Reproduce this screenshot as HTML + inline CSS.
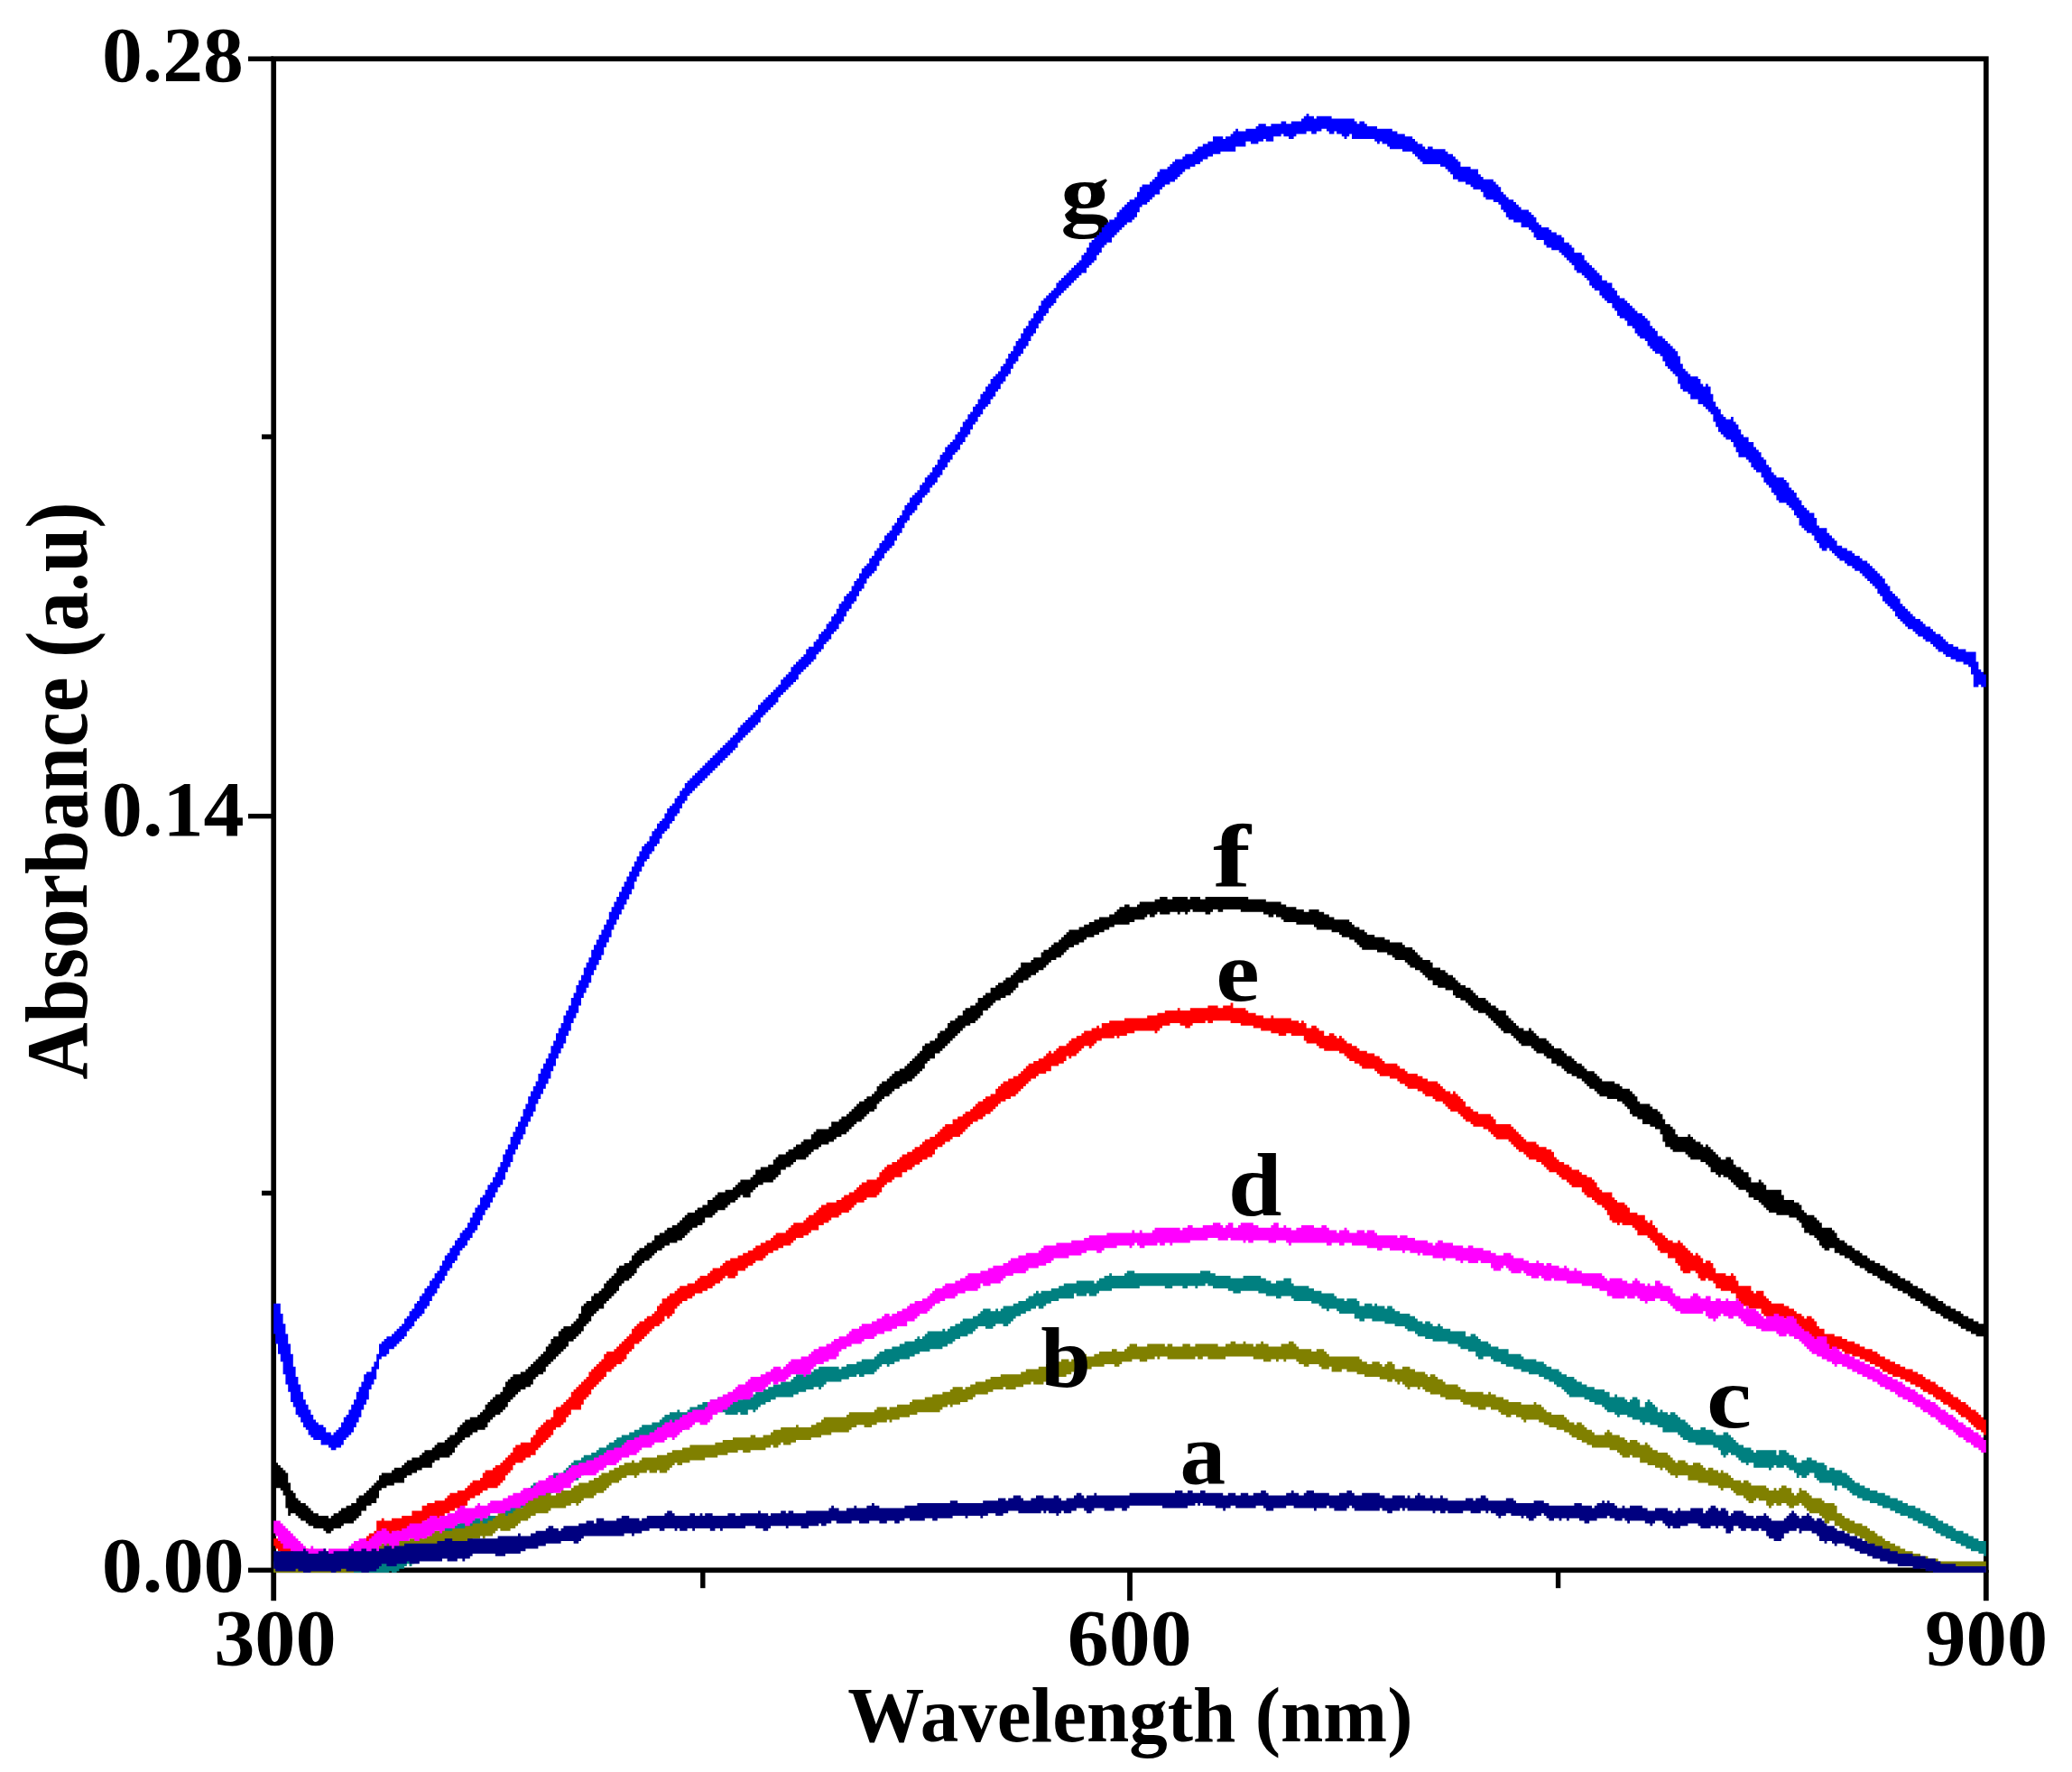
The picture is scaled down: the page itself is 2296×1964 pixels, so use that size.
<!DOCTYPE html>
<html><head><meta charset="utf-8"><title>Absorbance vs Wavelength</title>
<style>html,body{margin:0;padding:0;background:#fff}svg{display:block}text{font-family:"Liberation Serif","Times New Roman",serif;font-weight:bold;fill:#000}</style>
</head><body>
<svg width="2296" height="1964" viewBox="0 0 2296 1964">
<rect width="2296" height="1964" fill="#fff"/>
<text id="lg" font-size="99" transform="translate(1175.34,245.79) scale(1.1043,0.9200)">g</text>
<g id="axes" fill="#000">
<rect x="303.2" y="65.2" width="1897.6" height="1675.1" fill="none" stroke="#000" stroke-width="5.7"/>
<rect x="275" y="62.5" width="28" height="5.4"/>
<rect x="275" y="901.9" width="28" height="5.4"/>
<rect x="275" y="1737.6" width="28" height="5.4"/>
<rect x="290" y="481.4" width="13" height="5.4"/>
<rect x="290" y="1319.7" width="13" height="5.4"/>
<rect x="300.3" y="1740" width="5.8" height="34.2"/>
<rect x="1249.1" y="1740" width="5.8" height="34.2"/>
<rect x="2197.9" y="1740" width="5.8" height="34.2"/>
<rect x="776.1" y="1740" width="5.4" height="20.2"/>
<rect x="1723.9" y="1740" width="5.4" height="20.2"/>
</g>
<g id="curves">
<path fill="#0000ff" d="M303.2,1444.8H310.8V1456.0H313.6V1467.2H316.4V1478.4H319.2V1489.6H322.0V1500.8H324.8V1514.8H327.6V1526.0H330.4V1534.4H333.2V1542.8H336.0V1551.2H338.8V1556.8H341.6V1562.4H344.4V1568.0H347.2V1573.6H350.0V1576.4H352.8V1579.2H358.4V1582.0H361.2V1587.6H366.8V1590.4H369.6V1587.6H372.4V1584.8H375.2V1582.0H378.0V1576.4H380.8V1570.8H383.6V1568.0H386.4V1562.4H389.2V1556.8H392.0V1551.2H394.8V1542.8H397.6V1537.2H400.4V1531.6H403.2V1523.2H406.0V1520.4H411.6V1514.8H414.4V1509.2H417.2V1500.8H420.0V1489.6H422.8V1486.8H425.6V1484.0H428.4V1481.2H434.0V1478.4H436.8V1475.6H439.6V1472.8H442.4V1470.0H445.2V1467.2H448.0V1461.6H450.8V1458.8H453.6V1453.2H456.4V1450.4H459.2V1444.8H462.0V1442.0H464.8V1436.4H467.6V1433.6H470.4V1428.0H473.2V1425.2H476.0V1419.6H478.8V1416.8H481.6V1411.2H484.4V1408.4H487.2V1402.8H490.0V1397.2H492.8V1391.6H495.6V1388.8H498.4V1383.2H501.2V1380.4H504.0V1374.8H506.8V1372.0H509.6V1366.4H512.4V1363.6H515.2V1360.8H518.0V1355.2H520.8V1349.6H523.6V1344.0H526.4V1338.4H529.2V1335.6H532.0V1327.2H534.8V1324.4H537.6V1318.8H540.4V1313.2H543.2V1310.4H546.0V1304.8H548.8V1299.2H551.6V1293.6H554.4V1288.0H557.2V1279.6H560.0V1274.0H562.8V1268.4H565.6V1260.0H568.4V1254.4H571.2V1248.8H574.0V1243.2H576.8V1237.6H579.6V1229.2H582.4V1223.6H585.2V1215.2H588.0V1209.6H590.8V1204.0H593.6V1198.4H596.4V1190.0H599.2V1184.4H602.0V1178.8H604.8V1173.2H607.6V1167.6H610.4V1159.2H613.2V1153.6H616.0V1145.2H618.8V1139.6H621.6V1134.0H624.4V1125.6H627.2V1120.0H630.0V1114.4H632.8V1106.0H635.6V1100.4H638.4V1092.0H641.2V1086.4H644.0V1080.8H646.8V1072.4H649.6V1066.8H652.4V1061.2H655.2V1052.8H658.0V1047.2H660.8V1041.6H663.6V1036.0H666.4V1030.4H669.2V1024.8H672.0V1019.2H674.8V1010.8H677.6V1005.2H680.4V999.6H683.2V994.0H686.0V988.4H688.8V982.8H691.6V977.2H694.4V971.6H697.2V966.0H700.0V960.4H702.8V954.8H705.6V949.2H708.4V943.6H711.2V938.0H714.0V935.2H716.8V932.4H719.6V926.8H722.4V921.2H725.2V918.4H728.0V912.8H730.8V910.0H733.6V907.2H736.4V901.6H739.2V896.0H742.0V893.2H744.8V890.4H747.6V884.8H750.4V882.0H753.2V876.4H756.0V873.6H758.8V868.0H761.6V865.2H764.4V862.4H767.2V859.6H770.0V856.8H772.8V854.0H775.6V851.2H778.4V848.4H781.2V845.6H784.0V842.8H786.8V840.0H789.6V837.2H792.4V834.4H795.2V831.6H798.0V828.8H800.8V826.0H803.6V823.2H806.4V820.4H809.2V817.6H812.0V814.8H814.8V812.0H817.6V806.4H820.4V803.6H823.2V800.8H826.0V798.0H828.8V795.2H831.6V792.4H834.4V789.6H837.2V786.8H840.0V781.2H842.8V778.4H845.6V775.6H848.4V772.8H851.2V770.0H854.0V767.2H856.8V764.4H859.6V761.6H862.4V758.8H865.2V753.2H868.0V750.4H870.8V747.6H873.6V744.8H876.4V739.2H879.2V736.4H882.0V733.6H884.8V730.8H887.6V728.0H890.4V725.2H893.2V719.6H896.0V716.8H901.6V711.2H904.4V708.4H907.2V702.8H910.0V700.0H912.8V697.2H915.6V691.6H918.4V688.8H921.2V683.2H924.0V680.4H926.8V674.8H929.6V669.2H932.4V666.4H935.2V660.8H938.0V658.0H940.8V655.2H943.6V649.6H946.4V644.0H949.2V641.2H952.0V635.6H954.8V630.0H957.6V627.2H960.4V624.4H963.2V618.8H966.0V616.0H968.8V610.4H971.6V607.6H974.4V602.0H977.2V599.2H980.0V593.6H982.8V590.8H985.6V588.0H988.4V582.4H991.2V579.6H994.0V574.0H996.8V571.2H999.6V565.6H1002.4V560.0H1005.2V557.2H1008.0V551.6H1010.8V548.8H1013.6V546.0H1016.4V543.2H1019.2V537.6H1022.0V534.8H1024.8V529.2H1027.6V526.4H1030.4V523.6H1033.2V518.0H1036.0V515.2H1038.8V509.6H1041.6V504.0H1044.4V501.2H1047.2V495.6H1050.0V492.8H1052.8V490.0H1055.6V487.2H1058.4V481.6H1061.2V478.8H1064.0V473.2H1066.8V467.6H1069.6V464.8H1072.4V459.2H1075.2V456.4H1078.0V450.8H1080.8V448.0H1083.6V442.4H1086.4V436.8H1089.2V434.0H1092.0V428.4H1094.8V425.6H1097.6V420.0H1100.4V417.2H1103.2V414.4H1106.0V411.6H1108.8V406.0H1111.6V403.2H1114.4V397.6H1117.2V392.0H1120.0V389.2H1122.8V383.6H1125.6V378.0H1128.4V375.2H1131.2V369.6H1134.0V364.0H1136.8V361.2H1139.6V355.6H1142.4V352.8H1145.2V347.2H1148.0V344.4H1150.8V338.8H1153.6V333.2H1156.4V330.4H1159.2V327.6H1162.0V324.8H1164.8V322.0H1167.6V319.2H1170.4V313.6H1173.2V310.8H1176.0V308.0H1178.8V305.2H1181.6V302.4H1184.4V299.6H1187.2V296.8H1190.0V294.0H1192.8V291.2H1195.6V288.4H1198.4V282.8H1201.2V280.0H1204.0V274.4H1206.8V268.8H1209.6V266.0H1212.4V263.2H1215.2V260.4H1218.0V257.6H1220.8V252.0H1223.6V249.2H1226.4V246.4H1229.2V243.6H1234.8V240.8H1237.6V235.2H1240.4V232.4H1243.2V229.6H1246.0V226.8H1248.8V224.0H1251.6V221.2H1257.2V218.4H1260.0V212.8H1262.8V207.2H1265.6V204.4H1274.0V201.6H1276.8V198.8H1279.6V196.0H1282.4V190.4H1285.2V187.6H1293.6V184.8H1296.4V182.0H1299.2V179.2H1302.0V176.4H1310.4V173.6H1313.2V170.8H1321.6V168.0H1324.4V165.2H1327.2V162.4H1332.8V159.6H1338.4V156.8H1344.0V151.2H1355.2V154.0H1358.0V151.2H1363.6V148.4H1366.4V145.6H1369.2V142.8H1372.0V145.6H1380.4V142.8H1391.6V140.0H1394.4V137.2H1402.8V140.0H1408.4V137.2H1419.6V134.4H1425.2V137.2H1430.8V134.4H1442.0V131.6H1444.8V128.8H1447.6V126.0H1450.4V128.8H1456.0V131.6H1458.8V128.8H1475.6V131.6H1500.8V134.4H1503.6V137.2H1506.4V134.4H1512.0V137.2H1514.8V140.0H1526.0V142.8H1542.8V145.6H1548.4V148.4H1556.8V151.2H1565.2V154.0H1568.0V156.8H1570.8V159.6H1576.4V162.4H1579.2V165.2H1582.0V162.4H1587.6V165.2H1601.6V168.0H1604.4V170.8H1610.0V173.6H1612.8V176.4H1615.6V179.2H1618.4V184.8H1629.6V187.6H1638.0V193.2H1640.8V196.0H1643.6V198.8H1654.8V201.6H1657.6V204.4H1660.4V207.2H1663.2V212.8H1666.0V215.6H1668.8V218.4H1671.6V221.2H1677.2V224.0H1680.0V226.8H1682.8V229.6H1685.6V232.4H1694.0V235.2H1696.8V238.0H1699.6V240.8H1702.4V246.4H1705.2V249.2H1708.0V252.0H1716.4V254.8H1719.2V257.6H1724.8V260.4H1730.4V263.2H1733.2V268.8H1738.8V271.6H1741.6V274.4H1744.4V280.0H1752.8V282.8H1755.6V288.4H1758.4V291.2H1761.2V294.0H1764.0V296.8H1766.8V299.6H1769.6V302.4H1772.4V305.2H1775.2V310.8H1780.8V313.6H1786.4V319.2H1789.2V322.0H1792.0V327.6H1794.8V330.4H1800.4V333.2H1803.2V336.0H1806.0V338.8H1808.8V341.6H1811.6V344.4H1814.4V347.2H1820.0V350.0H1822.8V352.8H1825.6V355.6H1828.4V361.2H1831.2V364.0H1834.0V366.8H1836.8V372.4H1842.4V375.2H1845.2V378.0H1848.0V380.8H1850.8V383.6H1853.6V386.4H1856.4V389.2H1859.2V394.8H1862.0V403.2H1864.8V408.8H1867.6V411.6H1870.4V414.4H1873.2V417.2H1881.6V420.0H1884.4V425.6H1887.2V428.4H1890.0V425.6H1892.8V428.4H1895.6V436.8H1898.4V445.2H1901.2V450.8H1904.0V453.6H1906.8V459.2H1909.6V462.0H1912.4V464.8H1918.0V462.0H1920.8V467.6H1923.6V470.4H1926.4V476.0H1929.2V481.6H1932.0V484.4H1937.6V490.0H1943.2V495.6H1946.0V498.4H1948.8V501.2H1951.6V506.8H1954.4V509.6H1957.2V515.2H1960.0V518.0H1962.8V523.6H1965.6V526.4H1968.4V529.2H1976.8V532.0H1979.6V534.8H1982.4V540.4H1985.2V543.2H1988.0V546.0H1990.8V551.6H1993.6V554.4H1996.4V560.0H1999.2V562.8H2002.0V565.6H2004.8V568.4H2010.4V574.0H2013.2V582.4H2016.0V585.2H2024.4V590.8H2027.2V593.6H2030.0V596.4H2032.8V599.2H2035.6V604.8H2041.2V607.6H2046.8V610.4H2052.4V613.2H2055.2V616.0H2060.8V618.8H2063.6V621.6H2069.2V624.4H2072.0V627.2H2074.8V630.0H2077.6V632.8H2080.4V635.6H2083.2V638.4H2086.0V641.2H2088.8V646.8H2091.6V649.6H2094.4V655.2H2097.2V658.0H2100.0V660.8H2102.8V663.6H2105.6V669.2H2108.4V672.0H2111.2V674.8H2114.0V677.6H2116.8V680.4H2119.6V683.2H2122.4V686.0H2128.0V688.8H2130.8V691.6H2133.6V694.4H2139.2V697.2H2142.0V700.0H2144.8V702.8H2150.4V705.6H2153.2V708.4H2156.0V711.2H2158.8V714.0H2164.4V716.8H2170.0V719.6H2178.4V722.4H2189.6V733.6H2192.4V742.0H2195.2V744.8H2198.0V747.6H2200.8V761.6H2195.2V758.8H2192.4V761.6H2186.8V747.6H2184.0V739.2H2181.2V736.4H2175.6V733.6H2167.2V730.8H2161.6V728.0H2156.0V725.2H2153.2V722.4H2147.6V719.6H2144.8V716.8H2142.0V714.0H2139.2V711.2H2133.6V708.4H2130.8V705.6H2125.2V702.8H2122.4V700.0H2119.6V697.2H2114.0V694.4H2111.2V691.6H2108.4V688.8H2105.6V686.0H2102.8V683.2H2100.0V677.6H2097.2V674.8H2094.4V672.0H2091.6V669.2H2088.8V666.4H2086.0V660.8H2083.2V658.0H2080.4V652.4H2077.6V649.6H2074.8V646.8H2072.0V644.0H2069.2V641.2H2066.4V638.4H2063.6V635.6H2060.8V632.8H2055.2V630.0H2052.4V627.2H2046.8V624.4H2044.0V621.6H2038.4V618.8H2035.6V616.0H2032.8V613.2H2030.0V610.4H2027.2V607.6H2024.4V610.4H2018.8V607.6H2016.0V602.0H2013.2V599.2H2010.4V593.6H2007.6V590.8H2002.0V588.0H1999.2V585.2H1996.4V582.4H1993.6V574.0H1990.8V571.2H1988.0V565.6H1985.2V562.8H1982.4V560.0H1979.6V557.2H1971.2V554.4H1968.4V548.8H1965.6V546.0H1962.8V540.4H1960.0V537.6H1957.2V534.8H1954.4V529.2H1951.6V523.6H1946.0V520.8H1943.2V518.0H1940.4V512.4H1937.6V509.6H1934.8V506.8H1926.4V501.2H1923.6V495.6H1920.8V490.0H1918.0V487.2H1912.4V484.4H1909.6V481.6H1906.8V478.8H1904.0V473.2H1901.2V467.6H1898.4V459.2H1895.6V456.4H1892.8V453.6H1890.0V450.8H1887.2V448.0H1881.6V442.4H1873.2V436.8H1870.4V434.0H1864.8V431.2H1862.0V425.6H1859.2V417.2H1856.4V414.4H1853.6V411.6H1850.8V408.8H1848.0V406.0H1845.2V400.4H1842.4V394.8H1839.6V392.0H1834.0V389.2H1831.2V386.4H1828.4V383.6H1825.6V378.0H1822.8V375.2H1817.2V372.4H1814.4V369.6H1811.6V364.0H1808.8V361.2H1803.2V355.6H1800.4V352.8H1794.8V350.0H1792.0V344.4H1789.2V341.6H1786.4V336.0H1780.8V333.2H1778.0V330.4H1775.2V327.6H1772.4V322.0H1766.8V319.2H1764.0V316.4H1761.2V310.8H1758.4V308.0H1755.6V305.2H1752.8V302.4H1747.2V299.6H1744.4V294.0H1741.6V291.2H1738.8V288.4H1736.0V285.6H1733.2V282.8H1730.4V280.0H1727.6V277.2H1719.2V274.4H1713.6V271.6H1710.8V266.0H1702.4V263.2H1699.6V257.6H1696.8V254.8H1694.0V252.0H1685.6V246.4H1677.2V243.6H1671.6V240.8H1668.8V235.2H1666.0V232.4H1663.2V226.8H1660.4V224.0H1654.8V221.2H1646.4V218.4H1643.6V212.8H1640.8V210.0H1632.4V207.2H1629.6V204.4H1624.0V201.6H1615.6V198.8H1610.0V193.2H1607.2V190.4H1604.4V187.6H1601.6V184.8H1596.0V182.0H1576.4V179.2H1573.6V176.4H1570.8V173.6H1568.0V170.8H1565.2V168.0H1554.0V165.2H1540.0V162.4H1537.2V159.6H1531.6V156.8H1528.8V159.6H1526.0V156.8H1523.2V154.0H1498.0V148.4H1495.2V151.2H1492.4V154.0H1489.6V151.2H1486.8V148.4H1481.2V145.6H1478.4V148.4H1472.8V145.6H1470.0V142.8H1464.4V145.6H1458.8V148.4H1453.2V145.6H1447.6V148.4H1436.4V151.2H1433.6V154.0H1428.0V151.2H1422.4V148.4H1419.6V151.2H1411.2V156.8H1402.8V154.0H1400.0V156.8H1394.4V159.6H1386.0V156.8H1380.4V162.4H1369.2V168.0H1352.4V170.8H1344.0V173.6H1338.4V176.4H1332.8V179.2H1330.0V182.0H1324.4V184.8H1318.8V187.6H1313.2V190.4H1310.4V193.2H1307.6V196.0H1304.8V198.8H1302.0V201.6H1296.4V204.4H1290.8V207.2H1288.0V210.0H1285.2V215.6H1279.6V218.4H1276.8V221.2H1274.0V224.0H1271.2V226.8H1265.6V229.6H1262.8V235.2H1260.0V240.8H1257.2V243.6H1254.4V246.4H1248.8V249.2H1246.0V252.0H1243.2V254.8H1240.4V257.6H1237.6V260.4H1234.8V263.2H1232.0V268.8H1226.4V271.6H1223.6V274.4H1220.8V280.0H1218.0V282.8H1215.2V288.4H1212.4V291.2H1209.6V294.0H1206.8V296.8H1204.0V302.4H1198.4V305.2H1195.6V308.0H1192.8V310.8H1190.0V313.6H1187.2V316.4H1184.4V319.2H1181.6V322.0H1178.8V324.8H1176.0V327.6H1173.2V330.4H1170.4V336.0H1167.6V338.8H1164.8V341.6H1162.0V347.2H1159.2V350.0H1156.4V355.6H1153.6V358.4H1150.8V364.0H1148.0V369.6H1145.2V372.4H1142.4V378.0H1139.6V383.6H1136.8V386.4H1134.0V392.0H1131.2V394.8H1128.4V400.4H1125.6V403.2H1122.8V408.8H1120.0V414.4H1117.2V417.2H1114.4V422.8H1111.6V425.6H1108.8V431.2H1106.0V434.0H1103.2V439.6H1100.4V442.4H1097.6V448.0H1094.8V450.8H1092.0V453.6H1089.2V459.2H1086.4V462.0H1083.6V467.6H1080.8V470.4H1078.0V476.0H1075.2V481.6H1072.4V484.4H1069.6V490.0H1066.8V492.8H1064.0V498.4H1061.2V501.2H1058.4V504.0H1055.6V509.6H1052.8V512.4H1050.0V518.0H1047.2V520.8H1044.4V526.4H1041.6V529.2H1038.8V534.8H1036.0V537.6H1033.2V540.4H1030.4V546.0H1027.6V548.8H1024.8V551.6H1022.0V557.2H1019.2V560.0H1016.4V565.6H1013.6V568.4H1010.8V571.2H1008.0V576.8H1005.2V579.6H1002.4V585.2H999.6V590.8H996.8V593.6H994.0V599.2H991.2V604.8H988.4V607.6H985.6V610.4H982.8V613.2H980.0V618.8H977.2V621.6H974.4V627.2H971.6V632.8H968.8V635.6H966.0V638.4H963.2V641.2H960.4V646.8H957.6V652.4H954.8V655.2H952.0V660.8H949.2V666.4H946.4V669.2H943.6V674.8H940.8V677.6H938.0V683.2H935.2V688.8H932.4V691.6H929.6V697.2H926.8V700.0H924.0V702.8H921.2V708.4H918.4V711.2H915.6V714.0H912.8V719.6H910.0V722.4H907.2V725.2H904.4V730.8H901.6V733.6H898.8V736.4H896.0V739.2H893.2V742.0H890.4V744.8H887.6V747.6H884.8V753.2H882.0V756.0H879.2V758.8H876.4V761.6H873.6V764.4H870.8V767.2H868.0V770.0H865.2V772.8H862.4V778.4H859.6V781.2H856.8V784.0H854.0V786.8H851.2V789.6H848.4V792.4H845.6V795.2H842.8V800.8H840.0V803.6H837.2V806.4H834.4V809.2H831.6V812.0H828.8V814.8H826.0V817.6H823.2V820.4H820.4V823.2H817.6V828.8H814.8V831.6H812.0V834.4H809.2V837.2H806.4V840.0H803.6V842.8H800.8V845.6H798.0V848.4H795.2V851.2H792.4V854.0H789.6V856.8H786.8V859.6H784.0V862.4H781.2V865.2H778.4V868.0H775.6V870.8H772.8V873.6H770.0V876.4H767.2V879.2H764.4V882.0H761.6V887.6H758.8V890.4H756.0V896.0H753.2V901.6H750.4V904.4H747.6V910.0H744.8V912.8H742.0V918.4H739.2V921.2H736.4V924.0H733.6V929.6H730.8V935.2H728.0V938.0H725.2V943.6H722.4V946.4H719.6V952.0H716.8V954.8H714.0V960.4H711.2V966.0H708.4V971.6H705.6V977.2H702.8V985.6H700.0V991.2H697.2V996.8H694.4V1002.4H691.6V1008.0H688.8V1013.6H686.0V1019.2H683.2V1024.8H680.4V1030.4H677.6V1038.8H674.8V1044.4H672.0V1050.0H669.2V1058.4H666.4V1064.0H663.6V1069.6H660.8V1075.2H658.0V1080.8H655.2V1089.2H652.4V1094.8H649.6V1100.4H646.8V1106.0H644.0V1114.4H641.2V1122.8H638.4V1128.4H635.6V1134.0H632.8V1142.4H630.0V1148.0H627.2V1156.4H624.4V1162.0H621.6V1167.6H618.8V1173.2H616.0V1181.6H613.2V1187.2H610.4V1195.6H607.6V1201.2H604.8V1206.8H602.0V1212.4H599.2V1218.0H596.4V1223.6H593.6V1232.0H590.8V1237.6H588.0V1243.2H585.2V1248.8H582.4V1257.2H579.6V1262.8H576.8V1268.4H574.0V1274.0H571.2V1279.6H568.4V1288.0H565.6V1293.6H562.8V1299.2H560.0V1307.6H557.2V1313.2H554.4V1316.0H551.6V1321.6H548.8V1327.2H546.0V1332.8H543.2V1338.4H540.4V1341.2H537.6V1346.8H534.8V1352.4H532.0V1358.0H529.2V1363.6H526.4V1366.4H523.6V1372.0H520.8V1374.8H518.0V1380.4H515.2V1383.2H512.4V1386.0H509.6V1391.6H506.8V1397.2H504.0V1400.0H501.2V1405.6H498.4V1408.4H495.6V1414.0H492.8V1419.6H490.0V1422.4H487.2V1428.0H484.4V1433.6H481.6V1436.4H478.8V1442.0H476.0V1447.6H473.2V1450.4H470.4V1456.0H467.6V1458.8H464.8V1461.6H462.0V1464.4H459.2V1470.0H456.4V1472.8H453.6V1475.6H450.8V1481.2H448.0V1484.0H445.2V1486.8H442.4V1489.6H439.6V1492.4H436.8V1495.2H431.2V1500.8H428.4V1503.6H422.8V1506.4H420.0V1517.6H417.2V1528.8H414.4V1534.4H411.6V1540.0H408.8V1551.2H406.0V1556.8H403.2V1562.4H400.4V1570.8H397.6V1576.4H394.8V1582.0H392.0V1587.6H389.2V1590.4H386.4V1593.2H383.6V1596.0H380.8V1601.6H378.0V1604.4H372.4V1607.2H366.8V1604.4H364.0V1601.6H355.6V1596.0H347.2V1593.2H344.4V1590.4H341.6V1584.8H338.8V1582.0H336.0V1576.4H333.2V1570.8H330.4V1568.0H327.6V1559.6H324.8V1554.0H322.0V1542.8H319.2V1534.4H316.4V1523.2H313.6V1509.2H310.8V1500.8H308.0V1489.6H305.2V1478.4H303.2Z"/>
<path fill="#000000" d="M303.2,1621.2H308.0V1624.0H310.8V1626.8H313.6V1629.6H316.4V1632.4H319.2V1643.6H322.0V1652.0H324.8V1654.8H327.6V1660.4H330.4V1663.2H333.2V1666.0H338.8V1668.8H341.6V1671.6H344.4V1674.4H347.2V1677.2H352.8V1680.0H364.0V1682.8H366.8V1680.0H369.6V1677.2H375.2V1674.4H378.0V1671.6H383.6V1668.8H389.2V1666.0H394.8V1660.4H397.6V1657.6H403.2V1654.8H406.0V1652.0H408.8V1649.2H411.6V1646.4H414.4V1643.6H417.2V1640.8H420.0V1635.2H422.8V1632.4H434.0V1629.6H436.8V1626.8H445.2V1624.0H448.0V1621.2H450.8V1618.4H456.4V1615.6H464.8V1612.8H467.6V1610.0H470.4V1607.2H478.8V1604.4H481.6V1601.6H484.4V1598.8H492.8V1596.0H495.6V1593.2H498.4V1590.4H504.0V1587.6H506.8V1582.0H509.6V1579.2H512.4V1576.4H515.2V1573.6H520.8V1570.8H529.2V1568.0H532.0V1565.2H534.8V1562.4H537.6V1556.8H540.4V1554.0H543.2V1551.2H546.0V1548.4H548.8V1545.6H554.4V1542.8H557.2V1537.2H560.0V1531.6H562.8V1528.8H565.6V1526.0H568.4V1523.2H576.8V1520.4H582.4V1517.6H585.2V1514.8H588.0V1512.0H590.8V1509.2H593.6V1506.4H596.4V1503.6H599.2V1500.8H602.0V1498.0H604.8V1492.4H607.6V1489.6H610.4V1484.0H613.2V1481.2H618.8V1475.6H621.6V1472.8H624.4V1470.0H632.8V1467.2H635.6V1464.4H638.4V1461.6H641.2V1456.0H644.0V1447.6H646.8V1444.8H649.6V1442.0H655.2V1436.4H658.0V1433.6H663.6V1430.8H666.4V1428.0H669.2V1422.4H672.0V1419.6H674.8V1416.8H677.6V1414.0H680.4V1411.2H683.2V1405.6H686.0V1402.8H691.6V1400.0H697.2V1397.2H700.0V1391.6H702.8V1388.8H705.6V1386.0H708.4V1383.2H714.0V1380.4H716.8V1377.6H722.4V1374.8H725.2V1369.2H730.8V1366.4H736.4V1363.6H739.2V1360.8H744.8V1358.0H750.4V1355.2H753.2V1352.4H756.0V1349.6H758.8V1346.8H761.6V1344.0H770.0V1341.2H772.8V1338.4H778.4V1335.6H784.0V1330.0H789.6V1327.2H792.4V1324.4H795.2V1321.6H803.6V1318.8H812.0V1316.0H814.8V1313.2H817.6V1310.4H820.4V1307.6H831.6V1304.8H834.4V1302.0H837.2V1296.4H842.8V1293.6H851.2V1290.8H856.8V1285.2H859.6V1282.4H862.4V1279.6H870.8V1276.8H873.6V1274.0H879.2V1271.2H882.0V1268.4H887.6V1265.6H890.4V1262.8H898.8V1257.2H901.6V1254.4H904.4V1251.6H918.4V1248.8H921.2V1243.2H929.6V1240.4H932.4V1237.6H938.0V1234.8H940.8V1232.0H943.6V1229.2H946.4V1226.4H949.2V1223.6H952.0V1220.8H957.6V1218.0H960.4V1215.2H966.0V1212.4H968.8V1209.6H971.6V1204.0H974.4V1201.2H977.2V1198.4H982.8V1195.6H985.6V1192.8H988.4V1190.0H991.2V1187.2H996.8V1184.4H1002.4V1181.6H1005.2V1178.8H1008.0V1176.0H1010.8V1173.2H1013.6V1170.4H1016.4V1167.6H1019.2V1164.8H1022.0V1159.2H1024.8V1156.4H1030.4V1153.6H1036.0V1150.8H1038.8V1145.2H1041.6V1142.4H1047.2V1139.6H1050.0V1134.0H1052.8V1131.2H1058.4V1128.4H1061.2V1125.6H1066.8V1120.0H1069.6V1117.2H1075.2V1114.4H1080.8V1111.6H1083.6V1106.0H1089.2V1103.2H1092.0V1100.4H1097.6V1094.8H1103.2V1092.0H1106.0V1089.2H1111.6V1086.4H1114.4V1083.6H1120.0V1080.8H1122.8V1078.0H1125.6V1075.2H1128.4V1072.4H1131.2V1066.8H1142.4V1064.0H1145.2V1061.2H1153.6V1055.6H1156.4V1052.8H1162.0V1050.0H1164.8V1047.2H1167.6V1044.4H1173.2V1041.6H1176.0V1038.8H1178.8V1036.0H1181.6V1033.2H1184.4V1030.4H1195.6V1027.6H1201.2V1024.8H1206.8V1022.0H1212.4V1019.2H1218.0V1016.4H1229.2V1013.6H1234.8V1010.8H1237.6V1008.0H1240.4V1005.2H1246.0V1002.4H1251.6V1005.2H1260.0V1002.4H1262.8V999.6H1279.6V996.8H1285.2V994.0H1293.6V996.8H1299.2V994.0H1316.0V996.8H1318.8V994.0H1330.0V996.8H1335.6V994.0H1383.2V996.8H1402.8V999.6H1419.6V1002.4H1425.2V1005.2H1436.4V1008.0H1444.8V1010.8H1450.4V1008.0H1461.6V1010.8H1467.2V1013.6H1472.8V1016.4H1478.4V1019.2H1495.2V1022.0H1498.0V1024.8H1500.8V1027.6H1506.4V1030.4H1512.0V1033.2H1514.8V1036.0H1523.2V1038.8H1534.4V1041.6H1540.0V1044.4H1554.0V1047.2H1556.8V1050.0H1565.2V1052.8H1568.0V1055.6H1570.8V1058.4H1573.6V1061.2H1576.4V1064.0H1584.8V1066.8H1587.6V1072.4H1596.0V1075.2H1601.6V1078.0H1604.4V1080.8H1610.0V1083.6H1612.8V1086.4H1615.6V1089.2H1618.4V1092.0H1624.0V1094.8H1629.6V1097.6H1632.4V1100.4H1635.2V1103.2H1638.0V1106.0H1646.4V1108.8H1649.2V1111.6H1652.0V1114.4H1657.6V1117.2H1660.4V1120.0H1668.8V1125.6H1671.6V1128.4H1674.4V1131.2H1677.2V1134.0H1680.0V1136.8H1682.8V1139.6H1688.4V1142.4H1694.0V1139.6H1696.8V1142.4H1699.6V1145.2H1702.4V1148.0H1705.2V1150.8H1713.6V1153.6H1716.4V1156.4H1719.2V1159.2H1722.0V1162.0H1730.4V1164.8H1733.2V1167.6H1736.0V1170.4H1741.6V1173.2H1744.4V1176.0H1747.2V1178.8H1752.8V1181.6H1755.6V1184.4H1758.4V1187.2H1766.8V1190.0H1769.6V1192.8H1772.4V1195.6H1775.2V1198.4H1789.2V1201.2H1794.8V1204.0H1797.6V1206.8H1806.0V1209.6H1808.8V1212.4H1811.6V1215.2H1814.4V1220.8H1817.2V1223.6H1828.4V1226.4H1831.2V1229.2H1836.8V1232.0H1839.6V1234.8H1842.4V1240.4H1845.2V1246.0H1850.8V1248.8H1853.6V1251.6H1856.4V1257.2H1859.2V1260.0H1870.4V1257.2H1873.2V1260.0H1876.0V1262.8H1878.8V1265.6H1884.4V1268.4H1887.2V1271.2H1890.0V1268.4H1892.8V1271.2H1895.6V1274.0H1898.4V1276.8H1901.2V1279.6H1904.0V1282.4H1906.8V1285.2H1912.4V1282.4H1918.0V1285.2H1920.8V1290.8H1923.6V1293.6H1929.2V1296.4H1932.0V1299.2H1937.6V1304.8H1940.4V1310.4H1948.8V1307.6H1951.6V1310.4H1954.4V1313.2H1957.2V1318.8H1974.0V1324.4H1976.8V1330.0H1988.0V1332.8H1993.6V1335.6H1996.4V1341.2H1999.2V1344.0H2002.0V1346.8H2010.4V1349.6H2013.2V1352.4H2016.0V1355.2H2018.8V1360.8H2030.0V1363.6H2032.8V1366.4H2035.6V1372.0H2038.4V1374.8H2044.0V1377.6H2046.8V1380.4H2052.4V1383.2H2055.2V1386.0H2060.8V1388.8H2063.6V1391.6H2069.2V1394.4H2072.0V1397.2H2077.6V1400.0H2083.2V1402.8H2088.8V1405.6H2091.6V1408.4H2097.2V1411.2H2102.8V1414.0H2105.6V1416.8H2111.2V1419.6H2116.8V1422.4H2119.6V1425.2H2125.2V1428.0H2130.8V1430.8H2133.6V1433.6H2139.2V1436.4H2144.8V1439.2H2147.6V1442.0H2153.2V1444.8H2156.0V1447.6H2161.6V1450.4H2167.2V1453.2H2172.8V1456.0H2175.6V1458.8H2181.2V1461.6H2186.8V1464.4H2192.4V1467.2H2198.0V1470.0H2200.8V1484.0H2198.0V1481.2H2189.6V1478.4H2184.0V1475.6H2178.4V1472.8H2172.8V1470.0H2170.0V1467.2H2164.4V1464.4H2158.8V1461.6H2153.2V1458.8H2150.4V1456.0H2144.8V1453.2H2139.2V1450.4H2136.4V1447.6H2130.8V1444.8H2128.0V1442.0H2122.4V1439.2H2116.8V1436.4H2114.0V1433.6H2108.4V1430.8H2102.8V1428.0H2097.2V1425.2H2094.4V1422.4H2088.8V1419.6H2083.2V1416.8H2080.4V1414.0H2074.8V1411.2H2069.2V1408.4H2066.4V1405.6H2060.8V1402.8H2055.2V1400.0H2052.4V1397.2H2049.6V1394.4H2044.0V1391.6H2038.4V1388.8H2032.8V1383.2H2027.2V1386.0H2021.6V1383.2H2018.8V1380.4H2016.0V1374.8H2013.2V1372.0H2010.4V1369.2H2004.8V1366.4H1999.2V1360.8H1996.4V1355.2H1993.6V1352.4H1990.8V1349.6H1982.4V1346.8H1968.4V1344.0H1960.0V1341.2H1957.2V1338.4H1954.4V1335.6H1951.6V1332.8H1948.8V1330.0H1943.2V1327.2H1937.6V1321.6H1934.8V1318.8H1926.4V1316.0H1923.6V1313.2H1920.8V1310.4H1918.0V1307.6H1915.2V1304.8H1909.6V1302.0H1906.8V1304.8H1904.0V1302.0H1901.2V1299.2H1895.6V1293.6H1892.8V1290.8H1890.0V1288.0H1884.4V1285.2H1873.2V1282.4H1870.4V1279.6H1867.6V1276.8H1853.6V1274.0H1850.8V1271.2H1845.2V1265.6H1842.4V1257.2H1839.6V1251.6H1834.0V1248.8H1828.4V1246.0H1820.0V1240.4H1814.4V1237.6H1808.8V1234.8H1806.0V1229.2H1803.2V1226.4H1800.4V1223.6H1797.6V1220.8H1792.0V1218.0H1780.8V1215.2H1772.4V1212.4H1769.6V1209.6H1766.8V1206.8H1761.2V1204.0H1758.4V1201.2H1755.6V1198.4H1752.8V1195.6H1747.2V1192.8H1741.6V1190.0H1736.0V1187.2H1733.2V1184.4H1730.4V1181.6H1724.8V1178.8H1719.2V1173.2H1713.6V1170.4H1710.8V1167.6H1702.4V1164.8H1699.6V1162.0H1696.8V1159.2H1685.6V1156.4H1682.8V1153.6H1680.0V1150.8H1677.2V1148.0H1674.4V1145.2H1666.0V1142.4H1663.2V1139.6H1660.4V1136.8H1657.6V1134.0H1654.8V1131.2H1652.0V1128.4H1649.2V1125.6H1646.4V1122.8H1638.0V1120.0H1632.4V1117.2H1629.6V1114.4H1626.8V1111.6H1624.0V1108.8H1618.4V1106.0H1612.8V1103.2H1610.0V1097.6H1601.6V1094.8H1593.2V1092.0H1587.6V1086.4H1582.0V1083.6H1579.2V1080.8H1576.4V1078.0H1573.6V1075.2H1568.0V1072.4H1562.4V1069.6H1559.6V1066.8H1556.8V1064.0H1545.6V1061.2H1542.8V1058.4H1537.2V1055.6H1526.0V1052.8H1509.2V1050.0H1506.4V1047.2H1503.6V1044.4H1500.8V1041.6H1495.2V1038.8H1486.8V1036.0H1484.0V1033.2H1475.6V1030.4H1458.8V1027.6H1456.0V1024.8H1436.4V1022.0H1422.4V1019.2H1419.6V1016.4H1414.0V1013.6H1411.2V1016.4H1405.6V1013.6H1400.0V1010.8H1374.8V1008.0H1355.2V1010.8H1349.6V1008.0H1344.0V1010.8H1341.2V1013.6H1335.6V1010.8H1321.6V1008.0H1318.8V1010.8H1316.0V1013.6H1313.2V1010.8H1307.6V1013.6H1304.8V1010.8H1296.4V1013.6H1285.2V1010.8H1282.4V1013.6H1279.6V1016.4H1274.0V1013.6H1271.2V1016.4H1268.4V1019.2H1257.2V1022.0H1251.6V1024.8H1234.8V1027.6H1229.2V1030.4H1223.6V1033.2H1218.0V1036.0H1212.4V1038.8H1204.0V1041.6H1201.2V1044.4H1195.6V1047.2H1190.0V1050.0H1184.4V1052.8H1181.6V1055.6H1178.8V1058.4H1176.0V1061.2H1170.4V1064.0H1164.8V1066.8H1162.0V1069.6H1159.2V1072.4H1156.4V1075.2H1150.8V1078.0H1148.0V1080.8H1142.4V1083.6H1139.6V1086.4H1134.0V1089.2H1128.4V1094.8H1125.6V1097.6H1122.8V1100.4H1120.0V1103.2H1114.4V1106.0H1108.8V1108.8H1103.2V1111.6H1100.4V1114.4H1097.6V1117.2H1094.8V1120.0H1089.2V1125.6H1086.4V1128.4H1083.6V1131.2H1080.8V1134.0H1075.2V1136.8H1069.6V1139.6H1066.8V1142.4H1064.0V1145.2H1061.2V1148.0H1058.4V1150.8H1055.6V1153.6H1052.8V1156.4H1050.0V1159.2H1047.2V1162.0H1044.4V1164.8H1041.6V1167.6H1036.0V1173.2H1030.4V1176.0H1027.6V1178.8H1024.8V1184.4H1022.0V1187.2H1019.2V1190.0H1016.4V1192.8H1013.6V1195.6H1010.8V1198.4H1005.2V1201.2H999.6V1204.0H996.8V1206.8H991.2V1209.6H988.4V1212.4H985.6V1215.2H980.0V1218.0H977.2V1220.8H974.4V1223.6H971.6V1229.2H968.8V1232.0H963.2V1234.8H960.4V1237.6H957.6V1240.4H954.8V1243.2H949.2V1246.0H946.4V1248.8H943.6V1251.6H940.8V1254.4H938.0V1257.2H932.4V1260.0H926.8V1262.8H924.0V1265.6H918.4V1268.4H910.0V1271.2H907.2V1274.0H901.6V1276.8H898.8V1279.6H896.0V1282.4H893.2V1285.2H882.0V1288.0H879.2V1290.8H876.4V1293.6H870.8V1296.4H865.2V1302.0H862.4V1304.8H859.6V1307.6H856.8V1310.4H845.6V1313.2H840.0V1316.0H837.2V1318.8H834.4V1321.6H831.6V1327.2H823.2V1324.4H820.4V1327.2H817.6V1330.0H814.8V1332.8H809.2V1335.6H806.4V1338.4H803.6V1341.2H795.2V1344.0H792.4V1346.8H789.6V1349.6H781.2V1355.2H778.4V1358.0H772.8V1360.8H767.2V1363.6H764.4V1366.4H761.6V1369.2H758.8V1372.0H756.0V1374.8H750.4V1377.6H742.0V1380.4H736.4V1383.2H733.6V1386.0H728.0V1388.8H725.2V1391.6H722.4V1394.4H719.6V1397.2H714.0V1400.0H711.2V1402.8H708.4V1405.6H705.6V1411.2H702.8V1414.0H700.0V1416.8H697.2V1419.6H691.6V1422.4H688.8V1425.2H686.0V1430.8H683.2V1433.6H680.4V1436.4H677.6V1439.2H674.8V1442.0H672.0V1444.8H669.2V1450.4H663.6V1453.2H660.8V1456.0H658.0V1458.8H655.2V1464.4H652.4V1467.2H649.6V1470.0H646.8V1475.6H644.0V1478.4H641.2V1481.2H638.4V1484.0H635.6V1486.8H630.0V1492.4H627.2V1495.2H624.4V1498.0H621.6V1500.8H618.8V1503.6H616.0V1506.4H613.2V1509.2H610.4V1512.0H607.6V1514.8H604.8V1520.4H602.0V1523.2H596.4V1526.0H593.6V1528.8H590.8V1534.4H588.0V1537.2H582.4V1540.0H576.8V1542.8H574.0V1545.6H571.2V1548.4H568.4V1551.2H565.6V1554.0H562.8V1559.6H560.0V1562.4H557.2V1565.2H554.4V1568.0H548.8V1570.8H546.0V1573.6H543.2V1576.4H540.4V1582.0H537.6V1584.8H529.2V1587.6H523.6V1590.4H520.8V1593.2H515.2V1596.0H512.4V1598.8H509.6V1601.6H506.8V1604.4H504.0V1610.0H501.2V1612.8H498.4V1615.6H487.2V1618.4H481.6V1621.2H478.8V1626.8H467.6V1629.6H462.0V1632.4H456.4V1635.2H450.8V1638.0H448.0V1643.6H436.8V1646.4H428.4V1649.2H422.8V1652.0H420.0V1660.4H417.2V1666.0H411.6V1668.8H406.0V1674.4H400.4V1680.0H397.6V1682.8H394.8V1685.6H392.0V1688.4H380.8V1691.2H378.0V1694.0H369.6V1696.8H366.8V1699.6H361.2V1696.8H358.4V1694.0H347.2V1691.2H341.6V1688.4H338.8V1685.6H333.2V1682.8H330.4V1680.0H327.6V1677.2H322.0V1680.0H319.2V1671.6H316.4V1657.6H313.6V1652.0H310.8V1649.2H305.2V1646.4H303.2Z"/>
<path fill="#ff0000" d="M303.2,1705.2H316.4V1708.0H322.0V1710.8H330.4V1713.6H333.2V1719.2H338.8V1716.4H341.6V1719.2H355.6V1722.0H358.4V1724.8H364.0V1722.0H369.6V1719.2H380.8V1722.0H383.6V1719.2H386.4V1716.4H389.2V1713.6H400.4V1710.8H403.2V1705.2H406.0V1702.4H408.8V1699.6H414.4V1696.8H417.2V1685.6H422.8V1682.8H425.6V1685.6H434.0V1682.8H445.2V1680.0H456.4V1674.4H467.6V1668.8H473.2V1666.0H481.6V1663.2H492.8V1660.4H495.6V1657.6H498.4V1654.8H506.8V1652.0H515.2V1649.2H518.0V1646.4H520.8V1643.6H523.6V1640.8H532.0V1638.0H534.8V1632.4H537.6V1629.6H546.0V1626.8H548.8V1624.0H554.4V1621.2H557.2V1618.4H560.0V1615.6H562.8V1612.8H565.6V1610.0H568.4V1604.4H571.2V1601.6H576.8V1598.8H588.0V1593.2H590.8V1590.4H593.6V1584.8H596.4V1582.0H599.2V1579.2H602.0V1576.4H604.8V1573.6H610.4V1570.8H613.2V1562.4H616.0V1559.6H621.6V1556.8H624.4V1554.0H627.2V1551.2H630.0V1548.4H632.8V1542.8H635.6V1540.0H638.4V1537.2H641.2V1534.4H644.0V1531.6H646.8V1528.8H649.6V1526.0H652.4V1520.4H655.2V1517.6H658.0V1514.8H660.8V1512.0H663.6V1509.2H666.4V1506.4H669.2V1500.8H672.0V1498.0H680.4V1495.2H683.2V1492.4H686.0V1489.6H688.8V1486.8H691.6V1484.0H694.4V1481.2H697.2V1478.4H700.0V1472.8H702.8V1470.0H705.6V1467.2H708.4V1464.4H714.0V1461.6H716.8V1458.8H722.4V1456.0H725.2V1453.2H728.0V1447.6H730.8V1444.8H733.6V1439.2H739.2V1436.4H742.0V1433.6H747.6V1430.8H750.4V1428.0H753.2V1425.2H761.6V1422.4H770.0V1419.6H772.8V1416.8H775.6V1414.0H784.0V1411.2H786.8V1408.4H789.6V1405.6H798.0V1402.8H800.8V1400.0H803.6V1397.2H809.2V1394.4H817.6V1391.6H823.2V1388.8H828.8V1386.0H834.4V1383.2H837.2V1380.4H842.8V1377.6H848.4V1374.8H854.0V1372.0H856.8V1369.2H859.6V1366.4H870.8V1363.6H873.6V1360.8H876.4V1358.0H879.2V1355.2H890.4V1352.4H893.2V1349.6H896.0V1346.8H901.6V1344.0H904.4V1341.2H907.2V1338.4H910.0V1335.6H915.6V1332.8H926.8V1330.0H932.4V1327.2H935.2V1324.4H940.8V1321.6H946.4V1318.8H949.2V1316.0H952.0V1313.2H954.8V1310.4H960.4V1307.6H971.6V1304.8H974.4V1299.2H977.2V1296.4H980.0V1293.6H982.8V1290.8H988.4V1288.0H994.0V1285.2H996.8V1282.4H999.6V1279.6H1005.2V1276.8H1010.8V1274.0H1013.6V1271.2H1019.2V1268.4H1022.0V1265.6H1024.8V1262.8H1030.4V1260.0H1036.0V1257.2H1038.8V1254.4H1041.6V1251.6H1044.4V1248.8H1047.2V1246.0H1055.6V1240.4H1061.2V1237.6H1066.8V1234.8H1069.6V1232.0H1075.2V1229.2H1078.0V1226.4H1080.8V1223.6H1083.6V1220.8H1089.2V1218.0H1092.0V1215.2H1097.6V1212.4H1103.2V1206.8H1106.0V1204.0H1108.8V1201.2H1111.6V1198.4H1117.2V1195.6H1122.8V1192.8H1128.4V1190.0H1131.2V1187.2H1134.0V1184.4H1136.8V1181.6H1139.6V1178.8H1145.2V1176.0H1150.8V1173.2H1156.4V1170.4H1159.2V1167.6H1162.0V1164.8H1164.8V1167.6H1167.6V1164.8H1170.4V1162.0H1173.2V1159.2H1181.6V1156.4H1184.4V1153.6H1187.2V1150.8H1192.8V1148.0H1198.4V1145.2H1201.2V1142.4H1209.6V1139.6H1215.2V1136.8H1218.0V1139.6H1220.8V1134.0H1229.2V1131.2H1246.0V1128.4H1271.2V1125.6H1282.4V1122.8H1290.8V1120.0H1304.8V1117.2H1307.6V1120.0H1318.8V1117.2H1338.4V1114.4H1349.6V1117.2H1355.2V1114.4H1363.6V1111.6H1366.4V1117.2H1380.4V1120.0H1383.2V1122.8H1391.6V1125.6H1400.0V1128.4H1408.4V1125.6H1411.2V1128.4H1430.8V1131.2H1439.2V1134.0H1442.0V1131.2H1444.8V1134.0H1447.6V1139.6H1453.2V1136.8H1458.8V1139.6H1461.6V1142.4H1467.2V1148.0H1472.8V1145.2H1478.4V1148.0H1481.2V1150.8H1484.0V1148.0H1486.8V1150.8H1489.6V1153.6H1492.4V1156.4H1498.0V1159.2H1503.6V1162.0H1506.4V1164.8H1514.8V1167.6H1523.2V1170.4H1528.8V1173.2H1531.6V1176.0H1534.4V1178.8H1548.4V1181.6H1551.2V1184.4H1556.8V1187.2H1559.6V1190.0H1570.8V1192.8H1576.4V1195.6H1582.0V1198.4H1593.2V1201.2H1596.0V1204.0H1598.8V1206.8H1601.6V1209.6H1607.2V1212.4H1610.0V1209.6H1612.8V1212.4H1615.6V1215.2H1618.4V1218.0H1621.2V1220.8H1624.0V1226.4H1629.6V1229.2H1632.4V1232.0H1638.0V1234.8H1652.0V1237.6H1654.8V1240.4H1657.6V1246.0H1674.4V1248.8H1677.2V1251.6H1680.0V1254.4H1682.8V1257.2H1685.6V1260.0H1688.4V1262.8H1691.2V1265.6H1702.4V1268.4H1705.2V1271.2H1713.6V1274.0H1719.2V1276.8H1722.0V1282.4H1724.8V1285.2H1727.6V1288.0H1733.2V1290.8H1738.8V1293.6H1741.6V1296.4H1750.0V1299.2H1752.8V1302.0H1758.4V1304.8H1764.0V1307.6H1766.8V1310.4H1769.6V1316.0H1772.4V1318.8H1775.2V1321.6H1786.4V1327.2H1789.2V1330.0H1792.0V1332.8H1800.4V1335.6H1803.2V1338.4H1806.0V1344.0H1814.4V1346.8H1822.8V1352.4H1825.6V1355.2H1828.4V1352.4H1831.2V1358.0H1834.0V1360.8H1836.8V1366.4H1842.4V1369.2H1845.2V1372.0H1848.0V1374.8H1853.6V1377.6H1859.2V1374.8H1862.0V1377.6H1864.8V1380.4H1867.6V1383.2H1870.4V1386.0H1873.2V1388.8H1876.0V1391.6H1878.8V1388.8H1881.6V1391.6H1884.4V1394.4H1887.2V1400.0H1890.0V1397.2H1895.6V1400.0H1898.4V1405.6H1901.2V1411.2H1912.4V1414.0H1918.0V1411.2H1920.8V1414.0H1923.6V1419.6H1926.4V1425.2H1940.4V1430.8H1943.2V1433.6H1946.0V1430.8H1954.4V1436.4H1957.2V1439.2H1960.0V1442.0H1962.8V1444.8H1976.8V1447.6H1982.4V1450.4H1988.0V1453.2H1990.8V1456.0H1996.4V1458.8H1999.2V1461.6H2002.0V1458.8H2007.6V1461.6H2010.4V1464.4H2013.2V1470.0H2016.0V1472.8H2021.6V1478.4H2032.8V1481.2H2041.2V1484.0H2046.8V1486.8H2055.2V1489.6H2060.8V1492.4H2066.4V1495.2H2074.8V1498.0H2080.4V1500.8H2083.2V1503.6H2088.8V1506.4H2094.4V1509.2H2100.0V1512.0H2105.6V1514.8H2111.2V1517.6H2119.6V1520.4H2125.2V1523.2H2130.8V1526.0H2133.6V1528.8H2139.2V1531.6H2144.8V1534.4H2147.6V1537.2H2153.2V1540.0H2156.0V1542.8H2161.6V1545.6H2164.4V1548.4H2170.0V1551.2H2172.8V1554.0H2178.4V1556.8H2181.2V1559.6H2184.0V1562.4H2189.6V1565.2H2192.4V1568.0H2195.2V1570.8H2198.0V1573.6H2200.8V1590.4H2198.0V1587.6H2195.2V1584.8H2189.6V1582.0H2186.8V1579.2H2184.0V1576.4H2181.2V1573.6H2178.4V1570.8H2172.8V1568.0H2170.0V1565.2H2167.2V1562.4H2161.6V1559.6H2158.8V1556.8H2153.2V1554.0H2150.4V1551.2H2144.8V1548.4H2142.0V1545.6H2136.4V1542.8H2130.8V1540.0H2128.0V1537.2H2122.4V1534.4H2116.8V1531.6H2111.2V1528.8H2105.6V1526.0H2097.2V1523.2H2091.6V1520.4H2086.0V1517.6H2083.2V1514.8H2077.6V1512.0H2072.0V1509.2H2066.4V1506.4H2060.8V1503.6H2052.4V1500.8H2044.0V1498.0H2041.2V1495.2H2035.6V1498.0H2030.0V1495.2H2016.0V1489.6H2013.2V1484.0H2010.4V1486.8H2002.0V1484.0H1993.6V1478.4H1990.8V1470.0H1988.0V1467.2H1982.4V1464.4H1979.6V1461.6H1968.4V1464.4H1965.6V1461.6H1957.2V1458.8H1954.4V1456.0H1951.6V1450.4H1937.6V1447.6H1929.2V1444.8H1926.4V1439.2H1923.6V1433.6H1918.0V1430.8H1906.8V1428.0H1901.2V1422.4H1898.4V1419.6H1892.8V1416.8H1890.0V1419.6H1884.4V1416.8H1881.6V1411.2H1878.8V1408.4H1873.2V1411.2H1864.8V1408.4H1862.0V1402.8H1859.2V1400.0H1856.4V1394.4H1848.0V1388.8H1839.6V1386.0H1836.8V1380.4H1834.0V1377.6H1831.2V1374.8H1828.4V1372.0H1825.6V1369.2H1814.4V1363.6H1811.6V1360.8H1808.8V1358.0H1797.6V1355.2H1794.8V1358.0H1792.0V1355.2H1786.4V1352.4H1783.6V1346.8H1780.8V1341.2H1778.0V1338.4H1775.2V1335.6H1769.6V1332.8H1766.8V1330.0H1764.0V1327.2H1758.4V1324.4H1755.6V1321.6H1752.8V1316.0H1741.6V1313.2H1738.8V1310.4H1736.0V1307.6H1730.4V1304.8H1727.6V1302.0H1724.8V1299.2H1716.4V1296.4H1713.6V1293.6H1710.8V1290.8H1708.0V1288.0H1702.4V1285.2H1694.0V1282.4H1691.2V1279.6H1688.4V1276.8H1682.8V1274.0H1680.0V1271.2H1677.2V1268.4H1674.4V1265.6H1671.6V1262.8H1657.6V1260.0H1654.8V1257.2H1652.0V1254.4H1649.2V1251.6H1643.6V1248.8H1632.4V1246.0H1629.6V1243.2H1624.0V1240.4H1621.2V1237.6H1618.4V1234.8H1615.6V1232.0H1607.2V1229.2H1604.4V1226.4H1601.6V1223.6H1598.8V1220.8H1590.4V1218.0H1587.6V1215.2H1579.2V1212.4H1576.4V1209.6H1570.8V1206.8H1559.6V1204.0H1556.8V1201.2H1551.2V1198.4H1548.4V1195.6H1540.0V1192.8H1528.8V1190.0H1526.0V1187.2H1523.2V1184.4H1509.2V1181.6H1506.4V1178.8H1500.8V1176.0H1495.2V1173.2H1492.4V1170.4H1489.6V1167.6H1484.0V1164.8H1467.2V1162.0H1461.6V1159.2H1458.8V1156.4H1447.6V1153.6H1444.8V1148.0H1430.8V1145.2H1425.2V1148.0H1416.8V1145.2H1408.4V1142.4H1397.2V1139.6H1388.8V1136.8H1374.8V1134.0H1363.6V1131.2H1344.0V1134.0H1338.4V1131.2H1335.6V1134.0H1321.6V1136.8H1318.8V1139.6H1313.2V1136.8H1307.6V1134.0H1296.4V1136.8H1288.0V1139.6H1285.2V1142.4H1282.4V1145.2H1279.6V1142.4H1257.2V1145.2H1248.8V1148.0H1240.4V1150.8H1237.6V1148.0H1234.8V1150.8H1220.8V1153.6H1215.2V1156.4H1212.4V1159.2H1209.6V1162.0H1206.8V1159.2H1201.2V1162.0H1198.4V1164.8H1195.6V1167.6H1192.8V1170.4H1187.2V1173.2H1184.4V1170.4H1181.6V1176.0H1178.8V1178.8H1173.2V1181.6H1164.8V1187.2H1159.2V1190.0H1150.8V1192.8H1148.0V1195.6H1142.4V1198.4H1139.6V1201.2H1136.8V1204.0H1134.0V1206.8H1131.2V1209.6H1128.4V1212.4H1125.6V1215.2H1120.0V1218.0H1114.4V1220.8H1108.8V1223.6H1106.0V1226.4H1103.2V1229.2H1100.4V1232.0H1097.6V1234.8H1092.0V1237.6H1089.2V1240.4H1083.6V1243.2H1078.0V1246.0H1075.2V1248.8H1072.4V1251.6H1069.6V1254.4H1066.8V1257.2H1064.0V1260.0H1055.6V1262.8H1052.8V1265.6H1047.2V1268.4H1044.4V1271.2H1038.8V1274.0H1036.0V1279.6H1033.2V1282.4H1027.6V1285.2H1022.0V1288.0H1019.2V1290.8H1013.6V1293.6H1010.8V1296.4H1005.2V1299.2H999.6V1304.8H991.2V1307.6H988.4V1310.4H982.8V1313.2H980.0V1316.0H977.2V1321.6H974.4V1324.4H971.6V1327.2H960.4V1330.0H957.6V1332.8H949.2V1335.6H946.4V1338.4H943.6V1341.2H940.8V1344.0H932.4V1346.8H929.6V1349.6H921.2V1352.4H918.4V1355.2H912.8V1358.0H907.2V1363.6H898.8V1366.4H896.0V1369.2H890.4V1372.0H882.0V1374.8H879.2V1377.6H876.4V1380.4H868.0V1383.2H862.4V1386.0H856.8V1388.8H851.2V1391.6H848.4V1394.4H845.6V1397.2H837.2V1400.0H834.4V1402.8H828.8V1405.6H826.0V1408.4H817.6V1414.0H814.8V1416.8H806.4V1414.0H803.6V1416.8H800.8V1419.6H798.0V1422.4H792.4V1425.2H789.6V1428.0H784.0V1430.8H778.4V1433.6H770.0V1436.4H767.2V1439.2H761.6V1442.0H756.0V1444.8H753.2V1447.6H750.4V1450.4H747.6V1456.0H744.8V1458.8H742.0V1461.6H739.2V1458.8H736.4V1464.4H733.6V1467.2H730.8V1470.0H725.2V1472.8H722.4V1475.6H719.6V1478.4H716.8V1481.2H714.0V1484.0H711.2V1486.8H708.4V1489.6H702.8V1495.2H700.0V1498.0H697.2V1500.8H694.4V1506.4H691.6V1509.2H688.8V1512.0H683.2V1514.8H680.4V1517.6H677.6V1520.4H672.0V1526.0H669.2V1528.8H666.4V1531.6H663.6V1534.4H660.8V1537.2H658.0V1540.0H655.2V1545.6H652.4V1548.4H649.6V1551.2H646.8V1556.8H644.0V1562.4H632.8V1568.0H630.0V1570.8H627.2V1576.4H624.4V1579.2H621.6V1582.0H616.0V1584.8H613.2V1590.4H610.4V1593.2H607.6V1596.0H604.8V1598.8H602.0V1601.6H599.2V1604.4H596.4V1607.2H593.6V1612.8H588.0V1615.6H582.4V1618.4H579.6V1621.2H571.2V1624.0H568.4V1629.6H565.6V1632.4H562.8V1635.2H560.0V1640.8H557.2V1643.6H554.4V1646.4H551.6V1649.2H540.4V1652.0H534.8V1654.8H532.0V1657.6H526.4V1660.4H520.8V1663.2H518.0V1668.8H515.2V1671.6H509.6V1674.4H506.8V1671.6H504.0V1674.4H498.4V1677.2H492.8V1680.0H487.2V1682.8H478.8V1685.6H470.4V1688.4H467.6V1691.2H464.8V1694.0H456.4V1696.8H453.6V1694.0H450.8V1696.8H448.0V1699.6H442.4V1696.8H439.6V1699.6H434.0V1702.4H431.2V1699.6H428.4V1702.4H420.0V1705.2H417.2V1716.4H414.4V1722.0H406.0V1724.8H403.2V1727.6H400.4V1730.4H394.8V1733.2H389.2V1736.0H375.2V1738.8H352.8V1736.0H350.0V1733.2H347.2V1736.0H338.8V1738.8H336.0V1736.0H333.2V1733.2H327.6V1730.4H324.8V1727.6H319.2V1724.8H313.6V1722.0H310.8V1719.2H308.0V1716.4H305.2V1713.6H303.2Z"/>
<path fill="#008080" d="M303.2,1730.4H333.2V1733.2H338.8V1736.0H341.6V1733.2H352.8V1730.4H361.2V1733.2H364.0V1730.4H372.4V1733.2H380.8V1730.4H394.8V1733.2H397.6V1730.4H403.2V1733.2H411.6V1730.4H420.0V1733.2H422.8V1730.4H425.6V1727.6H434.0V1724.8H436.8V1722.0H439.6V1719.2H453.6V1716.4H459.2V1713.6H462.0V1710.8H467.6V1708.0H473.2V1705.2H476.0V1702.4H478.8V1699.6H487.2V1696.8H492.8V1694.0H495.6V1691.2H498.4V1688.4H501.2V1685.6H506.8V1688.4H509.6V1685.6H518.0V1682.8H532.0V1680.0H537.6V1682.8H540.4V1680.0H554.4V1677.2H557.2V1674.4H560.0V1671.6H562.8V1666.0H565.6V1663.2H568.4V1660.4H574.0V1657.6H576.8V1654.8H579.6V1652.0H585.2V1649.2H588.0V1646.4H590.8V1643.6H596.4V1646.4H602.0V1643.6H604.8V1640.8H607.6V1638.0H610.4V1635.2H613.2V1632.4H618.8V1635.2H621.6V1632.4H624.4V1629.6H627.2V1626.8H630.0V1624.0H632.8V1621.2H635.6V1618.4H644.0V1615.6H646.8V1612.8H655.2V1610.0H660.8V1607.2H663.6V1604.4H672.0V1601.6H674.8V1598.8H680.4V1596.0H683.2V1593.2H688.8V1590.4H697.2V1587.6H702.8V1584.8H708.4V1582.0H711.2V1579.2H722.4V1576.4H730.8V1573.6H733.6V1570.8H736.4V1568.0H742.0V1565.2H750.4V1562.4H753.2V1565.2H761.6V1562.4H764.4V1559.6H772.8V1556.8H778.4V1554.0H786.8V1551.2H795.2V1548.4H803.6V1551.2H823.2V1548.4H834.4V1545.6H837.2V1542.8H845.6V1540.0H851.2V1537.2H856.8V1534.4H865.2V1531.6H876.4V1528.8H879.2V1526.0H882.0V1523.2H898.8V1520.4H901.6V1517.6H907.2V1514.8H929.6V1517.6H932.4V1514.8H938.0V1512.0H949.2V1509.2H954.8V1506.4H968.8V1503.6H971.6V1500.8H974.4V1498.0H980.0V1495.2H988.4V1492.4H996.8V1489.6H1002.4V1486.8H1013.6V1484.0H1016.4V1481.2H1019.2V1484.0H1022.0V1481.2H1024.8V1478.4H1027.6V1475.6H1044.4V1472.8H1047.2V1475.6H1050.0V1472.8H1052.8V1470.0H1058.4V1467.2H1064.0V1464.4H1066.8V1461.6H1078.0V1458.8H1083.6V1456.0H1086.4V1453.2H1089.2V1450.4H1097.6V1453.2H1103.2V1450.4H1106.0V1453.2H1108.8V1450.4H1111.6V1447.6H1122.8V1444.8H1128.4V1442.0H1136.8V1439.2H1139.6V1436.4H1145.2V1433.6H1148.0V1430.8H1150.8V1433.6H1153.6V1430.8H1164.8V1428.0H1173.2V1425.2H1178.8V1422.4H1192.8V1419.6H1212.4V1422.4H1215.2V1419.6H1218.0V1416.8H1223.6V1414.0H1229.2V1411.2H1232.0V1414.0H1246.0V1411.2H1248.8V1408.4H1257.2V1411.2H1330.0V1408.4H1341.2V1411.2H1346.8V1414.0H1363.6V1416.8H1377.6V1414.0H1397.2V1416.8H1402.8V1419.6H1408.4V1422.4H1414.0V1419.6H1422.4V1416.8H1430.8V1422.4H1433.6V1425.2H1450.4V1428.0H1456.0V1430.8H1464.4V1433.6H1478.4V1436.4H1481.2V1439.2H1489.6V1442.0H1492.4V1439.2H1503.6V1442.0H1506.4V1447.6H1512.0V1444.8H1520.4V1447.6H1523.2V1444.8H1526.0V1447.6H1534.4V1450.4H1537.2V1447.6H1542.8V1450.4H1545.6V1453.2H1551.2V1456.0H1562.4V1458.8H1568.0V1461.6H1570.8V1464.4H1576.4V1467.2H1579.2V1464.4H1584.8V1467.2H1587.6V1470.0H1593.2V1467.2H1596.0V1470.0H1598.8V1472.8H1607.2V1475.6H1624.0V1481.2H1629.6V1478.4H1635.2V1481.2H1638.0V1484.0H1640.8V1486.8H1649.2V1489.6H1652.0V1492.4H1660.4V1495.2H1671.6V1500.8H1685.6V1503.6H1688.4V1506.4H1702.4V1509.2H1710.8V1512.0H1713.6V1514.8H1719.2V1517.6H1727.6V1520.4H1730.4V1523.2H1736.0V1526.0H1744.4V1528.8H1747.2V1531.6H1752.8V1534.4H1758.4V1537.2H1766.8V1540.0H1778.0V1542.8H1783.6V1548.4H1789.2V1545.6H1792.0V1548.4H1800.4V1551.2H1803.2V1554.0H1806.0V1551.2H1808.8V1548.4H1814.4V1551.2H1817.2V1559.6H1822.8V1554.0H1825.6V1551.2H1828.4V1554.0H1831.2V1556.8H1834.0V1559.6H1836.8V1565.2H1839.6V1562.4H1842.4V1565.2H1848.0V1568.0H1850.8V1565.2H1856.4V1568.0H1859.2V1570.8H1862.0V1573.6H1867.6V1576.4H1870.4V1579.2H1873.2V1582.0H1876.0V1584.8H1884.4V1582.0H1890.0V1584.8H1898.4V1587.6H1901.2V1590.4H1909.6V1587.6H1915.2V1590.4H1918.0V1593.2H1920.8V1596.0H1923.6V1598.8H1926.4V1601.6H1932.0V1604.4H1940.4V1607.2H1943.2V1610.0H1946.0V1607.2H1968.4V1612.8H1971.2V1607.2H1979.6V1610.0H1982.4V1612.8H1988.0V1615.6H1990.8V1621.2H1996.4V1618.4H2002.0V1615.6H2007.6V1618.4H2013.2V1621.2H2021.6V1624.0H2024.4V1629.6H2027.2V1626.8H2032.8V1629.6H2041.2V1632.4H2046.8V1635.2H2049.6V1638.0H2052.4V1640.8H2055.2V1643.6H2060.8V1646.4H2066.4V1649.2H2072.0V1652.0H2080.4V1654.8H2088.8V1657.6H2094.4V1660.4H2102.8V1663.2H2108.4V1666.0H2114.0V1668.8H2122.4V1671.6H2128.0V1674.4H2133.6V1677.2H2139.2V1680.0H2144.8V1682.8H2147.6V1685.6H2153.2V1688.4H2158.8V1691.2H2164.4V1694.0H2167.2V1696.8H2175.6V1699.6H2181.2V1702.4H2186.8V1705.2H2192.4V1708.0H2200.8V1724.8H2198.0V1722.0H2192.4V1719.2H2184.0V1716.4H2178.4V1713.6H2172.8V1710.8H2167.2V1708.0H2161.6V1705.2H2156.0V1702.4H2150.4V1699.6H2144.8V1696.8H2142.0V1694.0H2136.4V1691.2H2130.8V1688.4H2125.2V1685.6H2119.6V1682.8H2114.0V1680.0H2105.6V1677.2H2100.0V1674.4H2094.4V1671.6H2086.0V1668.8H2080.4V1666.0H2072.0V1663.2H2063.6V1660.4H2058.0V1657.6H2052.4V1654.8H2049.6V1652.0H2046.8V1649.2H2041.2V1646.4H2035.6V1652.0H2032.8V1646.4H2030.0V1643.6H2016.0V1640.8H2013.2V1638.0H2010.4V1632.4H2004.8V1635.2H2002.0V1638.0H1996.4V1635.2H1993.6V1638.0H1990.8V1632.4H1988.0V1629.6H1982.4V1626.8H1979.6V1624.0H1976.8V1626.8H1968.4V1624.0H1965.6V1626.8H1962.8V1629.6H1960.0V1626.8H1943.2V1621.2H1937.6V1624.0H1934.8V1621.2H1929.2V1618.4H1926.4V1615.6H1923.6V1612.8H1918.0V1610.0H1915.2V1612.8H1912.4V1615.6H1909.6V1612.8H1906.8V1607.2H1904.0V1604.4H1898.4V1601.6H1878.8V1598.8H1870.4V1596.0H1864.8V1593.2H1862.0V1590.4H1859.2V1587.6H1842.4V1582.0H1836.8V1579.2H1828.4V1576.4H1822.8V1579.2H1820.0V1576.4H1817.2V1573.6H1808.8V1570.8H1803.2V1568.0H1794.8V1570.8H1792.0V1568.0H1789.2V1565.2H1780.8V1562.4H1778.0V1559.6H1775.2V1556.8H1766.8V1554.0H1761.2V1551.2H1755.6V1548.4H1738.8V1545.6H1736.0V1542.8H1733.2V1540.0H1730.4V1537.2H1724.8V1534.4H1722.0V1531.6H1716.4V1528.8H1710.8V1526.0H1705.2V1523.2H1694.0V1520.4H1685.6V1517.6H1677.2V1514.8H1668.8V1512.0H1663.2V1509.2H1654.8V1506.4H1652.0V1503.6H1643.6V1506.4H1638.0V1503.6H1635.2V1498.0H1626.8V1495.2H1618.4V1492.4H1615.6V1489.6H1604.4V1486.8H1587.6V1484.0H1579.2V1481.2H1570.8V1478.4H1568.0V1475.6H1559.6V1472.8H1556.8V1470.0H1545.6V1467.2H1534.4V1464.4H1520.4V1461.6H1512.0V1464.4H1506.4V1461.6H1500.8V1456.0H1484.0V1453.2H1481.2V1450.4H1472.8V1453.2H1470.0V1450.4H1464.4V1447.6H1461.6V1444.8H1453.2V1442.0H1433.6V1439.2H1430.8V1436.4H1419.6V1439.2H1414.0V1436.4H1402.8V1433.6H1394.4V1430.8H1374.8V1433.6H1366.4V1430.8H1360.8V1428.0H1344.0V1425.2H1338.4V1422.4H1335.6V1425.2H1327.2V1428.0H1324.4V1425.2H1316.0V1428.0H1310.4V1425.2H1299.2V1428.0H1290.8V1425.2H1262.8V1428.0H1232.0V1430.8H1218.0V1433.6H1215.2V1436.4H1206.8V1433.6H1204.0V1436.4H1192.8V1433.6H1190.0V1439.2H1173.2V1442.0H1164.8V1444.8H1159.2V1447.6H1156.4V1450.4H1150.8V1447.6H1148.0V1450.4H1142.4V1453.2H1136.8V1456.0H1131.2V1458.8H1125.6V1461.6H1122.8V1464.4H1120.0V1467.2H1117.2V1470.0H1111.6V1467.2H1103.2V1470.0H1100.4V1472.8H1092.0V1470.0H1083.6V1472.8H1080.8V1475.6H1078.0V1478.4H1072.4V1481.2H1064.0V1484.0H1058.4V1486.8H1055.6V1489.6H1050.0V1492.4H1044.4V1495.2H1030.4V1498.0H1019.2V1500.8H1013.6V1503.6H1008.0V1506.4H996.8V1509.2H991.2V1512.0H985.6V1514.8H982.8V1512.0H977.2V1514.8H974.4V1517.6H971.6V1520.4H968.8V1523.2H957.6V1526.0H952.0V1523.2H949.2V1526.0H940.8V1528.8H932.4V1531.6H915.6V1534.4H912.8V1537.2H910.0V1540.0H907.2V1537.2H901.6V1540.0H893.2V1542.8H884.8V1545.6H879.2V1548.4H859.6V1551.2H854.0V1554.0H848.4V1556.8H842.8V1559.6H840.0V1562.4H837.2V1565.2H834.4V1562.4H828.8V1568.0H820.4V1565.2H817.6V1568.0H803.6V1565.2H792.4V1568.0H786.8V1570.8H775.6V1573.6H770.0V1576.4H767.2V1579.2H761.6V1582.0H758.8V1584.8H750.4V1582.0H747.6V1584.8H744.8V1587.6H733.6V1590.4H730.8V1593.2H719.6V1596.0H716.8V1598.8H708.4V1601.6H700.0V1604.4H697.2V1607.2H694.4V1610.0H686.0V1612.8H683.2V1615.6H680.4V1618.4H677.6V1621.2H669.2V1624.0H658.0V1626.8H655.2V1629.6H649.6V1632.4H646.8V1635.2H644.0V1638.0H641.2V1640.8H632.8V1643.6H627.2V1646.4H624.4V1649.2H621.6V1652.0H613.2V1654.8H610.4V1657.6H607.6V1663.2H602.0V1660.4H596.4V1663.2H593.6V1666.0H588.0V1668.8H585.2V1671.6H576.8V1674.4H574.0V1677.2H571.2V1680.0H568.4V1682.8H565.6V1685.6H562.8V1691.2H557.2V1694.0H537.6V1696.8H529.2V1699.6H515.2V1702.4H512.4V1705.2H498.4V1708.0H495.6V1710.8H492.8V1716.4H490.0V1719.2H478.8V1722.0H476.0V1724.8H473.2V1727.6H462.0V1730.4H459.2V1733.2H456.4V1736.0H453.6V1733.2H450.8V1736.0H448.0V1738.8H442.4V1741.6H439.6V1743.0H434.0V1741.6H431.2V1743.0H303.2Z"/>
<path fill="#808000" d="M303.2,1733.2H305.2V1730.4H310.8V1727.6H322.0V1730.4H327.6V1733.2H336.0V1730.4H344.4V1727.6H350.0V1730.4H355.6V1727.6H358.4V1724.8H361.2V1727.6H364.0V1730.4H386.4V1727.6H389.2V1724.8H394.8V1719.2H397.6V1716.4H406.0V1713.6H411.6V1710.8H417.2V1708.0H422.8V1710.8H425.6V1708.0H428.4V1705.2H434.0V1708.0H453.6V1705.2H459.2V1702.4H467.6V1705.2H470.4V1702.4H476.0V1699.6H478.8V1696.8H487.2V1694.0H492.8V1696.8H501.2V1694.0H515.2V1691.2H523.6V1688.4H532.0V1685.6H534.8V1688.4H540.4V1685.6H546.0V1682.8H548.8V1680.0H551.6V1677.2H560.0V1680.0H562.8V1677.2H568.4V1674.4H571.2V1671.6H579.6V1668.8H582.4V1666.0H585.2V1663.2H588.0V1660.4H590.8V1657.6H604.8V1654.8H610.4V1657.6H616.0V1654.8H621.6V1652.0H632.8V1649.2H635.6V1646.4H641.2V1643.6H652.4V1640.8H658.0V1638.0H663.6V1635.2H666.4V1632.4H674.8V1629.6H680.4V1626.8H686.0V1624.0H691.6V1621.2H700.0V1618.4H702.8V1621.2H708.4V1618.4H711.2V1615.6H728.0V1612.8H739.2V1610.0H744.8V1607.2H756.0V1604.4H764.4V1601.6H792.4V1598.8H800.8V1596.0H812.0V1593.2H831.6V1590.4H837.2V1593.2H845.6V1590.4H854.0V1587.6H856.8V1584.8H865.2V1582.0H882.0V1579.2H884.8V1582.0H898.8V1579.2H904.4V1576.4H910.0V1573.6H912.8V1570.8H938.0V1568.0H940.8V1565.2H968.8V1562.4H971.6V1559.6H982.8V1562.4H985.6V1559.6H994.0V1556.8H1008.0V1554.0H1010.8V1551.2H1024.8V1548.4H1033.2V1545.6H1044.4V1542.8H1052.8V1540.0H1055.6V1537.2H1066.8V1540.0H1069.6V1537.2H1075.2V1534.4H1080.8V1531.6H1092.0V1528.8H1097.6V1526.0H1108.8V1523.2H1131.2V1520.4H1136.8V1517.6H1150.8V1514.8H1159.2V1512.0H1164.8V1509.2H1176.0V1506.4H1184.4V1509.2H1187.2V1506.4H1192.8V1503.6H1198.4V1500.8H1204.0V1503.6H1212.4V1500.8H1218.0V1498.0H1232.0V1495.2H1237.6V1498.0H1246.0V1495.2H1248.8V1492.4H1251.6V1489.6H1260.0V1492.4H1271.2V1489.6H1290.8V1492.4H1293.6V1489.6H1299.2V1492.4H1310.4V1489.6H1318.8V1492.4H1324.4V1489.6H1349.6V1492.4H1358.0V1489.6H1363.6V1486.8H1369.2V1489.6H1377.6V1486.8H1380.4V1489.6H1388.8V1492.4H1391.6V1489.6H1397.2V1486.8H1400.0V1489.6H1405.6V1492.4H1419.6V1489.6H1428.0V1486.8H1433.6V1489.6H1436.4V1492.4H1439.2V1495.2H1453.2V1498.0H1458.8V1495.2H1467.2V1498.0H1470.0V1500.8H1472.8V1503.6H1506.4V1506.4H1509.2V1509.2H1514.8V1512.0H1520.4V1509.2H1528.8V1512.0H1531.6V1514.8H1534.4V1512.0H1537.2V1509.2H1542.8V1512.0H1545.6V1517.6H1554.0V1514.8H1562.4V1517.6H1568.0V1520.4H1579.2V1523.2H1582.0V1526.0H1584.8V1523.2H1590.4V1526.0H1593.2V1528.8H1598.8V1531.6H1601.6V1534.4H1615.6V1537.2H1618.4V1540.0H1624.0V1542.8H1643.6V1545.6H1649.2V1542.8H1652.0V1545.6H1657.6V1548.4H1666.0V1551.2H1671.6V1554.0H1685.6V1556.8H1699.6V1554.0H1702.4V1556.8H1708.0V1559.6H1710.8V1562.4H1713.6V1565.2H1719.2V1568.0H1733.2V1570.8H1736.0V1573.6H1738.8V1576.4H1744.4V1579.2H1747.2V1576.4H1752.8V1579.2H1755.6V1582.0H1758.4V1584.8H1764.0V1587.6H1766.8V1590.4H1778.0V1587.6H1780.8V1584.8H1783.6V1587.6H1786.4V1590.4H1794.8V1593.2H1800.4V1596.0H1803.2V1598.8H1806.0V1596.0H1814.4V1598.8H1817.2V1601.6H1822.8V1598.8H1825.6V1601.6H1828.4V1604.4H1831.2V1607.2H1836.8V1610.0H1848.0V1612.8H1850.8V1615.6H1853.6V1618.4H1856.4V1621.2H1859.2V1618.4H1867.6V1621.2H1870.4V1624.0H1876.0V1621.2H1884.4V1624.0H1887.2V1626.8H1890.0V1629.6H1892.8V1626.8H1898.4V1629.6H1904.0V1632.4H1906.8V1629.6H1909.6V1632.4H1915.2V1635.2H1918.0V1638.0H1920.8V1640.8H1929.2V1643.6H1932.0V1640.8H1937.6V1643.6H1940.4V1646.4H1957.2V1649.2H1960.0V1652.0H1965.6V1649.2H1968.4V1652.0H1971.2V1649.2H1974.0V1646.4H1979.6V1649.2H1985.2V1654.8H1988.0V1657.6H1990.8V1654.8H1993.6V1649.2H1996.4V1652.0H2002.0V1654.8H2004.8V1657.6H2007.6V1660.4H2018.8V1663.2H2021.6V1666.0H2032.8V1668.8H2035.6V1677.2H2041.2V1680.0H2044.0V1682.8H2049.6V1685.6H2055.2V1688.4H2063.6V1691.2H2069.2V1694.0H2072.0V1696.8H2077.6V1699.6H2080.4V1702.4H2086.0V1705.2H2088.8V1708.0H2094.4V1710.8H2100.0V1713.6H2105.6V1716.4H2111.2V1719.2H2119.6V1722.0H2128.0V1724.8H2136.4V1727.6H2147.6V1730.4H2200.8V1743.0H2144.8V1741.6H2136.4V1738.8H2128.0V1736.0H2119.6V1733.2H2111.2V1730.4H2102.8V1727.6H2097.2V1724.8H2091.6V1722.0H2086.0V1719.2H2080.4V1716.4H2077.6V1713.6H2072.0V1710.8H2069.2V1708.0H2066.4V1705.2H2060.8V1702.4H2055.2V1699.6H2046.8V1696.8H2041.2V1694.0H2038.4V1691.2H2032.8V1685.6H2027.2V1688.4H2021.6V1682.8H2018.8V1680.0H2016.0V1677.2H2004.8V1674.4H2002.0V1671.6H1999.2V1668.8H1996.4V1666.0H1993.6V1668.8H1988.0V1671.6H1982.4V1668.8H1979.6V1666.0H1974.0V1668.8H1968.4V1666.0H1965.6V1668.8H1962.8V1671.6H1960.0V1668.8H1957.2V1663.2H1948.8V1660.4H1946.0V1663.2H1943.2V1666.0H1937.6V1663.2H1934.8V1660.4H1932.0V1657.6H1923.6V1654.8H1920.8V1652.0H1918.0V1649.2H1909.6V1652.0H1906.8V1649.2H1904.0V1646.4H1892.8V1643.6H1881.6V1640.8H1870.4V1635.2H1859.2V1638.0H1856.4V1635.2H1850.8V1632.4H1848.0V1629.6H1845.2V1626.8H1842.4V1629.6H1839.6V1626.8H1834.0V1624.0H1825.6V1621.2H1817.2V1615.6H1808.8V1612.8H1806.0V1615.6H1797.6V1612.8H1794.8V1610.0H1792.0V1607.2H1783.6V1604.4H1764.0V1601.6H1758.4V1598.8H1752.8V1596.0H1747.2V1593.2H1741.6V1590.4H1738.8V1587.6H1733.2V1584.8H1724.8V1582.0H1716.4V1579.2H1710.8V1576.4H1705.2V1573.6H1691.2V1576.4H1688.4V1573.6H1685.6V1570.8H1680.0V1568.0H1674.4V1570.8H1668.8V1568.0H1663.2V1565.2H1660.4V1562.4H1652.0V1559.6H1646.4V1562.4H1638.0V1559.6H1629.6V1556.8H1621.2V1554.0H1618.4V1551.2H1601.6V1548.4H1596.0V1545.6H1584.8V1542.8H1579.2V1540.0H1576.4V1537.2H1573.6V1540.0H1570.8V1537.2H1562.4V1540.0H1559.6V1537.2H1556.8V1534.4H1554.0V1531.6H1551.2V1534.4H1548.4V1531.6H1545.6V1528.8H1542.8V1531.6H1537.2V1528.8H1528.8V1526.0H1512.0V1523.2H1503.6V1520.4H1492.4V1517.6H1486.8V1520.4H1475.6V1514.8H1472.8V1517.6H1464.4V1514.8H1461.6V1512.0H1450.4V1514.8H1444.8V1512.0H1439.2V1509.2H1436.4V1506.4H1425.2V1509.2H1422.4V1506.4H1416.8V1509.2H1414.0V1506.4H1408.4V1509.2H1400.0V1506.4H1388.8V1503.6H1358.0V1506.4H1338.4V1503.6H1332.8V1506.4H1327.2V1503.6H1324.4V1506.4H1293.6V1503.6H1285.2V1506.4H1282.4V1503.6H1279.6V1506.4H1271.2V1509.2H1262.8V1506.4H1254.4V1509.2H1243.2V1512.0H1240.4V1514.8H1234.8V1512.0H1223.6V1514.8H1209.6V1517.6H1195.6V1520.4H1187.2V1523.2H1181.6V1526.0H1162.0V1531.6H1156.4V1534.4H1145.2V1531.6H1142.4V1534.4H1134.0V1537.2H1125.6V1540.0H1114.4V1537.2H1111.6V1540.0H1100.4V1542.8H1094.8V1545.6H1080.8V1548.4H1078.0V1551.2H1072.4V1554.0H1064.0V1556.8H1055.6V1559.6H1052.8V1556.8H1050.0V1559.6H1044.4V1562.4H1041.6V1565.2H1016.4V1568.0H1008.0V1570.8H996.8V1573.6H988.4V1576.4H985.6V1573.6H982.8V1576.4H971.6V1579.2H966.0V1582.0H957.6V1579.2H949.2V1582.0H943.6V1584.8H940.8V1587.6H921.2V1590.4H910.0V1593.2H898.8V1596.0H882.0V1598.8H876.4V1601.6H868.0V1598.8H865.2V1601.6H862.4V1604.4H856.8V1601.6H854.0V1604.4H848.4V1607.2H831.6V1610.0H823.2V1607.2H817.6V1610.0H806.4V1612.8H795.2V1615.6H781.2V1618.4H764.4V1621.2H756.0V1624.0H750.4V1621.2H747.6V1624.0H744.8V1626.8H742.0V1629.6H739.2V1632.4H730.8V1629.6H728.0V1632.4H719.6V1629.6H716.8V1632.4H708.4V1635.2H705.6V1638.0H702.8V1635.2H694.4V1638.0H688.8V1640.8H686.0V1643.6H677.6V1646.4H674.8V1649.2H672.0V1652.0H669.2V1654.8H660.8V1657.6H658.0V1660.4H646.8V1663.2H644.0V1666.0H641.2V1668.8H638.4V1666.0H632.8V1668.8H627.2V1671.6H610.4V1674.4H607.6V1677.2H593.6V1680.0H588.0V1682.8H585.2V1685.6H576.8V1688.4H574.0V1691.2H571.2V1694.0H565.6V1696.8H554.4V1694.0H551.6V1696.8H548.8V1699.6H546.0V1702.4H537.6V1705.2H534.8V1702.4H532.0V1705.2H523.6V1708.0H518.0V1710.8H509.6V1708.0H506.8V1710.8H498.4V1713.6H495.6V1710.8H490.0V1713.6H487.2V1716.4H476.0V1719.2H462.0V1722.0H456.4V1724.8H442.4V1722.0H434.0V1724.8H428.4V1727.6H417.2V1730.4H403.2V1733.2H400.4V1736.0H397.6V1741.6H392.0V1743.0H303.2Z"/>
<path fill="#ff00ff" d="M303.2,1685.6H310.8V1688.4H313.6V1691.2H316.4V1694.0H319.2V1696.8H322.0V1699.6H324.8V1702.4H327.6V1705.2H330.4V1708.0H333.2V1710.8H336.0V1713.6H338.8V1716.4H344.4V1713.6H347.2V1716.4H361.2V1719.2H364.0V1716.4H386.4V1713.6H389.2V1710.8H392.0V1708.0H397.6V1705.2H406.0V1708.0H408.8V1705.2H411.6V1702.4H414.4V1699.6H417.2V1696.8H422.8V1694.0H428.4V1696.8H431.2V1699.6H434.0V1696.8H445.2V1694.0H450.8V1691.2H453.6V1688.4H467.6V1685.6H473.2V1682.8H476.0V1680.0H484.4V1682.8H487.2V1680.0H495.6V1677.2H504.0V1674.4H506.8V1671.6H509.6V1668.8H515.2V1671.6H526.4V1668.8H529.2V1666.0H532.0V1668.8H540.4V1666.0H543.2V1663.2H557.2V1660.4H562.8V1657.6H568.4V1654.8H576.8V1652.0H579.6V1649.2H590.8V1646.4H593.6V1643.6H596.4V1640.8H604.8V1638.0H607.6V1635.2H613.2V1638.0H616.0V1635.2H618.8V1632.4H627.2V1629.6H630.0V1626.8H632.8V1624.0H641.2V1621.2H649.6V1618.4H658.0V1615.6H663.6V1612.8H669.2V1610.0H672.0V1607.2H680.4V1604.4H688.8V1601.6H691.6V1598.8H694.4V1596.0H702.8V1593.2H708.4V1590.4H719.6V1587.6H725.2V1584.8H728.0V1582.0H733.6V1579.2H736.4V1576.4H742.0V1573.6H744.8V1576.4H747.6V1573.6H753.2V1570.8H756.0V1568.0H761.6V1565.2H767.2V1562.4H781.2V1559.6H784.0V1554.0H786.8V1551.2H795.2V1548.4H800.8V1545.6H806.4V1542.8H812.0V1540.0H814.8V1537.2H817.6V1534.4H826.0V1531.6H828.8V1528.8H831.6V1526.0H842.8V1523.2H848.4V1520.4H854.0V1517.6H856.8V1514.8H865.2V1517.6H868.0V1514.8H870.8V1512.0H873.6V1509.2H876.4V1506.4H887.6V1503.6H896.0V1500.8H898.8V1498.0H901.6V1495.2H907.2V1492.4H915.6V1489.6H921.2V1486.8H924.0V1484.0H929.6V1481.2H938.0V1478.4H940.8V1475.6H943.6V1472.8H952.0V1470.0H954.8V1467.2H966.0V1464.4H971.6V1461.6H977.2V1458.8H980.0V1456.0H985.6V1458.8H988.4V1456.0H994.0V1453.2H999.6V1450.4H1005.2V1447.6H1008.0V1444.8H1013.6V1442.0H1022.0V1439.2H1027.6V1436.4H1030.4V1433.6H1033.2V1430.8H1036.0V1428.0H1044.4V1425.2H1047.2V1422.4H1058.4V1419.6H1064.0V1416.8H1069.6V1414.0H1072.4V1411.2H1086.4V1408.4H1094.8V1405.6H1100.4V1402.8H1111.6V1400.0H1117.2V1397.2H1120.0V1394.4H1128.4V1391.6H1136.8V1388.8H1150.8V1386.0H1153.6V1383.2H1156.4V1380.4H1170.4V1377.6H1187.2V1374.8H1201.2V1372.0H1206.8V1369.2H1226.4V1366.4H1254.4V1363.6H1257.2V1366.4H1262.8V1363.6H1265.6V1366.4H1276.8V1363.6H1279.6V1360.8H1307.6V1363.6H1310.4V1360.8H1316.0V1358.0H1321.6V1360.8H1332.8V1358.0H1344.0V1355.2H1352.4V1358.0H1355.2V1360.8H1358.0V1358.0H1360.8V1355.2H1366.4V1360.8H1372.0V1358.0H1374.8V1355.2H1388.8V1358.0H1394.4V1360.8H1408.4V1358.0H1411.2V1355.2H1416.8V1360.8H1422.4V1358.0H1425.2V1360.8H1430.8V1363.6H1436.4V1360.8H1442.0V1358.0H1456.0V1360.8H1464.4V1358.0H1470.0V1360.8H1472.8V1363.6H1481.2V1366.4H1484.0V1363.6H1489.6V1360.8H1492.4V1363.6H1495.2V1366.4H1503.6V1363.6H1512.0V1366.4H1514.8V1363.6H1523.2V1366.4H1526.0V1369.2H1548.4V1372.0H1551.2V1369.2H1559.6V1372.0H1568.0V1374.8H1582.0V1377.6H1587.6V1380.4H1590.4V1377.6H1593.2V1374.8H1598.8V1377.6H1610.0V1380.4H1621.2V1383.2H1626.8V1380.4H1632.4V1383.2H1643.6V1386.0H1652.0V1388.8H1657.6V1391.6H1666.0V1388.8H1674.4V1391.6H1677.2V1394.4H1688.4V1397.2H1694.0V1400.0H1702.4V1397.2H1705.2V1400.0H1710.8V1402.8H1713.6V1400.0H1719.2V1402.8H1727.6V1405.6H1733.2V1402.8H1736.0V1405.6H1738.8V1408.4H1744.4V1405.6H1747.2V1408.4H1752.8V1411.2H1775.2V1414.0H1778.0V1416.8H1780.8V1419.6H1783.6V1416.8H1797.6V1419.6H1803.2V1422.4H1808.8V1419.6H1811.6V1416.8H1814.4V1419.6H1817.2V1422.4H1822.8V1425.2H1825.6V1422.4H1828.4V1425.2H1834.0V1419.6H1839.6V1422.4H1842.4V1425.2H1850.8V1428.0H1853.6V1433.6H1856.4V1436.4H1862.0V1439.2H1873.2V1436.4H1876.0V1433.6H1881.6V1436.4H1884.4V1439.2H1890.0V1436.4H1895.6V1442.0H1901.2V1439.2H1906.8V1442.0H1912.4V1439.2H1915.2V1442.0H1923.6V1439.2H1926.4V1442.0H1929.2V1444.8H1932.0V1450.4H1934.8V1447.6H1937.6V1450.4H1946.0V1453.2H1948.8V1456.0H1951.6V1458.8H1954.4V1461.6H1957.2V1458.8H1965.6V1456.0H1971.2V1458.8H1976.8V1461.6H1979.6V1458.8H1988.0V1461.6H1990.8V1467.2H1993.6V1470.0H1996.4V1472.8H1999.2V1475.6H2004.8V1478.4H2007.6V1481.2H2010.4V1484.0H2013.2V1481.2H2024.4V1489.6H2027.2V1495.2H2030.0V1492.4H2035.6V1495.2H2038.4V1498.0H2041.2V1500.8H2049.6V1503.6H2055.2V1506.4H2060.8V1509.2H2066.4V1512.0H2072.0V1514.8H2077.6V1517.6H2083.2V1520.4H2086.0V1523.2H2091.6V1526.0H2097.2V1528.8H2102.8V1531.6H2108.4V1534.4H2111.2V1537.2H2116.8V1540.0H2122.4V1542.8H2125.2V1545.6H2130.8V1548.4H2133.6V1551.2H2139.2V1554.0H2144.8V1556.8H2147.6V1559.6H2150.4V1562.4H2156.0V1565.2H2158.8V1568.0H2164.4V1570.8H2167.2V1573.6H2170.0V1576.4H2175.6V1579.2H2178.4V1582.0H2184.0V1584.8H2186.8V1587.6H2192.4V1590.4H2195.2V1593.2H2198.0V1596.0H2200.8V1610.0H2195.2V1607.2H2192.4V1604.4H2186.8V1601.6H2184.0V1598.8H2178.4V1596.0H2175.6V1593.2H2170.0V1590.4H2167.2V1587.6H2164.4V1584.8H2158.8V1582.0H2156.0V1579.2H2150.4V1576.4H2147.6V1573.6H2144.8V1570.8H2139.2V1568.0H2136.4V1565.2H2130.8V1562.4H2128.0V1559.6H2122.4V1556.8H2119.6V1554.0H2114.0V1551.2H2108.4V1548.4H2102.8V1545.6H2100.0V1542.8H2094.4V1540.0H2088.8V1537.2H2083.2V1534.4H2080.4V1531.6H2074.8V1528.8H2069.2V1526.0H2063.6V1523.2H2058.0V1520.4H2052.4V1517.6H2046.8V1514.8H2041.2V1512.0H2035.6V1514.8H2032.8V1512.0H2030.0V1509.2H2024.4V1506.4H2018.8V1503.6H2013.2V1500.8H2007.6V1498.0H2004.8V1495.2H2002.0V1492.4H1999.2V1489.6H1996.4V1486.8H1993.6V1484.0H1988.0V1481.2H1982.4V1478.4H1979.6V1481.2H1971.2V1478.4H1968.4V1475.6H1951.6V1472.8H1946.0V1470.0H1934.8V1467.2H1932.0V1464.4H1929.2V1461.6H1926.4V1458.8H1920.8V1461.6H1915.2V1458.8H1909.6V1456.0H1906.8V1458.8H1904.0V1461.6H1901.2V1464.4H1898.4V1461.6H1892.8V1458.8H1890.0V1453.2H1887.2V1456.0H1862.0V1453.2H1856.4V1450.4H1853.6V1447.6H1850.8V1444.8H1848.0V1442.0H1839.6V1439.2H1834.0V1442.0H1825.6V1444.8H1822.8V1442.0H1817.2V1439.2H1814.4V1436.4H1811.6V1439.2H1803.2V1436.4H1800.4V1439.2H1786.4V1436.4H1780.8V1430.8H1772.4V1428.0H1764.0V1425.2H1752.8V1422.4H1736.0V1419.6H1722.0V1416.8H1719.2V1419.6H1710.8V1416.8H1708.0V1414.0H1705.2V1416.8H1696.8V1414.0H1691.2V1411.2H1688.4V1408.4H1685.6V1411.2H1674.4V1408.4H1671.6V1405.6H1668.8V1402.8H1666.0V1405.6H1663.2V1408.4H1654.8V1405.6H1652.0V1400.0H1640.8V1397.2H1638.0V1400.0H1626.8V1397.2H1621.2V1400.0H1618.4V1397.2H1612.8V1394.4H1601.6V1397.2H1598.8V1394.4H1587.6V1391.6H1576.4V1388.8H1573.6V1391.6H1570.8V1388.8H1562.4V1386.0H1556.8V1388.8H1554.0V1386.0H1540.0V1383.2H1531.6V1386.0H1526.0V1383.2H1514.8V1380.4H1498.0V1377.6H1489.6V1380.4H1484.0V1377.6H1475.6V1380.4H1470.0V1377.6H1430.8V1380.4H1428.0V1377.6H1425.2V1374.8H1414.0V1377.6H1405.6V1374.8H1388.8V1377.6H1383.2V1374.8H1380.4V1377.6H1377.6V1374.8H1363.6V1372.0H1360.8V1374.8H1349.6V1372.0H1338.4V1374.8H1318.8V1377.6H1299.2V1380.4H1296.4V1377.6H1290.8V1380.4H1285.2V1377.6H1282.4V1380.4H1268.4V1383.2H1262.8V1380.4H1260.0V1377.6H1257.2V1380.4H1254.4V1383.2H1251.6V1380.4H1237.6V1383.2H1223.6V1386.0H1220.8V1388.8H1215.2V1386.0H1204.0V1388.8H1198.4V1391.6H1184.4V1394.4H1167.6V1397.2H1164.8V1400.0H1159.2V1402.8H1150.8V1405.6H1139.6V1408.4H1136.8V1411.2H1122.8V1414.0H1114.4V1416.8H1111.6V1419.6H1108.8V1422.4H1097.6V1425.2H1089.2V1422.4H1086.4V1428.0H1083.6V1430.8H1069.6V1433.6H1061.2V1436.4H1058.4V1439.2H1047.2V1442.0H1041.6V1444.8H1036.0V1447.6H1033.2V1450.4H1030.4V1453.2H1027.6V1456.0H1019.2V1458.8H1016.4V1461.6H1013.6V1464.4H1005.2V1470.0H994.0V1472.8H988.4V1475.6H980.0V1478.4H971.6V1481.2H968.8V1484.0H957.6V1486.8H954.8V1489.6H943.6V1492.4H938.0V1495.2H932.4V1498.0H929.6V1503.6H926.8V1506.4H918.4V1509.2H912.8V1512.0H904.4V1514.8H901.6V1517.6H898.8V1523.2H893.2V1526.0H890.4V1523.2H876.4V1526.0H873.6V1528.8H870.8V1531.6H862.4V1534.4H856.8V1531.6H854.0V1534.4H851.2V1537.2H848.4V1540.0H845.6V1542.8H834.4V1548.4H831.6V1551.2H817.6V1554.0H812.0V1556.8H809.2V1559.6H806.4V1562.4H800.8V1565.2H795.2V1568.0H789.6V1573.6H786.8V1576.4H784.0V1579.2H775.6V1576.4H770.0V1579.2H767.2V1582.0H764.4V1584.8H756.0V1587.6H753.2V1590.4H750.4V1593.2H747.6V1596.0H744.8V1593.2H739.2V1596.0H736.4V1598.8H725.2V1601.6H722.4V1604.4H711.2V1607.2H708.4V1610.0H705.6V1612.8H697.2V1615.6H688.8V1618.4H686.0V1621.2H683.2V1624.0H672.0V1626.8H669.2V1629.6H663.6V1632.4H660.8V1635.2H644.0V1638.0H638.4V1640.8H635.6V1643.6H632.8V1649.2H624.4V1652.0H621.6V1654.8H604.8V1657.6H596.4V1660.4H590.8V1663.2H585.2V1666.0H582.4V1668.8H576.8V1671.6H565.6V1674.4H560.0V1677.2H543.2V1680.0H540.4V1682.8H534.8V1685.6H532.0V1682.8H526.4V1685.6H523.6V1688.4H520.8V1691.2H515.2V1688.4H506.8V1691.2H504.0V1694.0H492.8V1696.8H490.0V1699.6H487.2V1696.8H481.6V1699.6H478.8V1702.4H473.2V1705.2H464.8V1708.0H459.2V1705.2H453.6V1708.0H442.4V1713.6H436.8V1716.4H434.0V1713.6H431.2V1710.8H428.4V1713.6H425.6V1710.8H422.8V1713.6H420.0V1719.2H417.2V1724.8H414.4V1727.6H408.8V1724.8H400.4V1727.6H397.6V1730.4H386.4V1733.2H369.6V1730.4H364.0V1733.2H352.8V1736.0H347.2V1733.2H341.6V1730.4H330.4V1727.6H327.6V1722.0H324.8V1719.2H322.0V1716.4H313.6V1710.8H310.8V1708.0H308.0V1702.4H305.2V1699.6H303.2Z"/>
<path fill="#000080" d="M303.2,1719.2H336.0V1716.4H338.8V1719.2H341.6V1722.0H352.8V1719.2H358.4V1716.4H361.2V1719.2H364.0V1722.0H369.6V1719.2H386.4V1716.4H392.0V1719.2H400.4V1716.4H406.0V1719.2H411.6V1716.4H417.2V1719.2H420.0V1716.4H425.6V1713.6H434.0V1716.4H436.8V1713.6H448.0V1710.8H484.4V1708.0H492.8V1705.2H501.2V1708.0H518.0V1705.2H551.6V1702.4H574.0V1699.6H576.8V1702.4H588.0V1699.6H593.6V1696.8H604.8V1694.0H607.6V1691.2H613.2V1694.0H618.8V1696.8H621.6V1694.0H624.4V1691.2H641.2V1688.4H649.6V1685.6H658.0V1688.4H660.8V1682.8H669.2V1685.6H683.2V1682.8H688.8V1680.0H697.2V1682.8H708.4V1685.6H711.2V1682.8H716.8V1680.0H736.4V1677.2H739.2V1674.4H744.8V1677.2H747.6V1680.0H764.4V1677.2H770.0V1680.0H775.6V1677.2H778.4V1680.0H781.2V1677.2H789.6V1680.0H806.4V1677.2H814.8V1680.0H820.4V1677.2H840.0V1674.4H842.8V1677.2H851.2V1680.0H854.0V1677.2H865.2V1674.4H870.8V1677.2H873.6V1674.4H879.2V1677.2H893.2V1674.4H918.4V1671.6H921.2V1668.8H924.0V1671.6H929.6V1674.4H938.0V1671.6H946.4V1668.8H949.2V1671.6H960.4V1668.8H966.0V1666.0H968.8V1668.8H974.4V1671.6H1002.4V1668.8H1016.4V1666.0H1052.8V1663.2H1061.2V1666.0H1089.2V1663.2H1106.0V1660.4H1114.4V1663.2H1117.2V1660.4H1122.8V1657.6H1131.2V1660.4H1134.0V1663.2H1142.4V1660.4H1148.0V1657.6H1156.4V1660.4H1167.6V1657.6H1173.2V1660.4H1176.0V1663.2H1181.6V1660.4H1190.0V1657.6H1192.8V1654.8H1198.4V1657.6H1201.2V1660.4H1204.0V1657.6H1212.4V1654.8H1215.2V1657.6H1251.6V1654.8H1302.0V1652.0H1310.4V1654.8H1316.0V1652.0H1321.6V1654.8H1330.0V1652.0H1335.6V1654.8H1355.2V1657.6H1360.8V1654.8H1369.2V1657.6H1374.8V1654.8H1383.2V1657.6H1388.8V1654.8H1397.2V1652.0H1402.8V1654.8H1405.6V1657.6H1425.2V1654.8H1430.8V1652.0H1433.6V1654.8H1439.2V1657.6H1444.8V1654.8H1447.6V1652.0H1456.0V1654.8H1472.8V1657.6H1484.0V1654.8H1492.4V1652.0H1498.0V1654.8H1500.8V1657.6H1509.2V1654.8H1528.8V1657.6H1534.4V1660.4H1542.8V1657.6H1556.8V1660.4H1559.6V1657.6H1562.4V1660.4H1568.0V1657.6H1570.8V1654.8H1573.6V1657.6H1579.2V1660.4H1584.8V1657.6H1587.6V1660.4H1596.0V1657.6H1598.8V1660.4H1604.4V1663.2H1624.0V1660.4H1632.4V1663.2H1635.2V1660.4H1640.8V1657.6H1646.4V1660.4H1649.2V1663.2H1668.8V1660.4H1677.2V1663.2H1680.0V1666.0H1699.6V1663.2H1710.8V1666.0H1716.4V1668.8H1744.4V1666.0H1752.8V1668.8H1764.0V1671.6H1766.8V1668.8H1769.6V1666.0H1775.2V1663.2H1778.0V1666.0H1780.8V1663.2H1783.6V1666.0H1789.2V1668.8H1792.0V1671.6H1797.6V1668.8H1800.4V1671.6H1806.0V1668.8H1820.0V1671.6H1825.6V1674.4H1834.0V1671.6H1848.0V1674.4H1853.6V1677.2H1856.4V1674.4H1859.2V1671.6H1862.0V1674.4H1873.2V1671.6H1887.2V1677.2H1890.0V1674.4H1892.8V1671.6H1895.6V1668.8H1901.2V1671.6H1904.0V1674.4H1906.8V1671.6H1912.4V1674.4H1915.2V1680.0H1918.0V1677.2H1920.8V1674.4H1932.0V1677.2H1934.8V1680.0H1943.2V1682.8H1946.0V1680.0H1954.4V1677.2H1957.2V1680.0H1960.0V1682.8H1962.8V1685.6H1976.8V1682.8H1979.6V1680.0H1982.4V1677.2H1985.2V1674.4H1988.0V1677.2H1990.8V1680.0H1993.6V1682.8H1996.4V1680.0H2002.0V1677.2H2004.8V1680.0H2007.6V1682.8H2010.4V1685.6H2013.2V1682.8H2018.8V1685.6H2021.6V1688.4H2024.4V1691.2H2032.8V1694.0H2035.6V1696.8H2044.0V1699.6H2049.6V1702.4H2058.0V1705.2H2063.6V1708.0H2069.2V1710.8H2077.6V1713.6H2086.0V1716.4H2094.4V1719.2H2102.8V1722.0H2119.6V1724.8H2133.6V1727.6H2144.8V1730.4H2150.4V1733.2H2167.2V1736.0H2200.8V1743.0H2142.0V1741.6H2133.6V1738.8H2119.6V1736.0H2102.8V1733.2H2091.6V1730.4H2083.2V1727.6H2074.8V1724.8H2069.2V1722.0H2060.8V1719.2H2055.2V1716.4H2049.6V1713.6H2044.0V1710.8H2035.6V1713.6H2032.8V1710.8H2030.0V1708.0H2024.4V1710.8H2021.6V1708.0H2016.0V1702.4H2013.2V1699.6H2007.6V1696.8H1996.4V1699.6H1993.6V1694.0H1990.8V1696.8H1982.4V1699.6H1976.8V1705.2H1974.0V1708.0H1965.6V1705.2H1960.0V1702.4H1957.2V1696.8H1951.6V1694.0H1948.8V1696.8H1940.4V1694.0H1934.8V1696.8H1929.2V1694.0H1926.4V1691.2H1920.8V1696.8H1918.0V1699.6H1912.4V1694.0H1909.6V1691.2H1904.0V1694.0H1901.2V1691.2H1895.6V1694.0H1884.4V1691.2H1881.6V1688.4H1870.4V1691.2H1862.0V1694.0H1853.6V1691.2H1850.8V1694.0H1848.0V1691.2H1845.2V1688.4H1842.4V1685.6H1834.0V1688.4H1831.2V1691.2H1828.4V1688.4H1822.8V1685.6H1806.0V1688.4H1803.2V1685.6H1800.4V1682.8H1797.6V1685.6H1789.2V1682.8H1783.6V1680.0H1780.8V1682.8H1769.6V1685.6H1761.2V1688.4H1755.6V1685.6H1750.0V1682.8H1738.8V1685.6H1736.0V1682.8H1730.4V1685.6H1727.6V1682.8H1722.0V1685.6H1716.4V1682.8H1713.6V1680.0H1710.8V1677.2H1708.0V1680.0H1702.4V1682.8H1699.6V1685.6H1694.0V1682.8H1691.2V1680.0H1688.4V1682.8H1685.6V1680.0H1674.4V1677.2H1668.8V1680.0H1663.2V1682.8H1660.4V1680.0H1657.6V1677.2H1652.0V1674.4H1649.2V1677.2H1646.4V1674.4H1640.8V1677.2H1629.6V1674.4H1621.2V1677.2H1604.4V1674.4H1601.6V1677.2H1596.0V1674.4H1590.4V1677.2H1587.6V1674.4H1559.6V1671.6H1556.8V1674.4H1554.0V1671.6H1551.2V1674.4H1542.8V1677.2H1537.2V1674.4H1531.6V1671.6H1528.8V1674.4H1500.8V1671.6H1498.0V1668.8H1495.2V1671.6H1492.4V1674.4H1478.4V1671.6H1472.8V1668.8H1470.0V1671.6H1458.8V1674.4H1456.0V1671.6H1433.6V1668.8H1425.2V1671.6H1411.2V1674.4H1402.8V1671.6H1400.0V1668.8H1391.6V1671.6H1369.2V1668.8H1363.6V1671.6H1358.0V1674.4H1355.2V1671.6H1346.8V1668.8H1332.8V1666.0H1330.0V1668.8H1327.2V1666.0H1324.4V1668.8H1316.0V1671.6H1288.0V1668.8H1251.6V1671.6H1248.8V1674.4H1243.2V1671.6H1234.8V1674.4H1223.6V1671.6H1212.4V1674.4H1209.6V1677.2H1204.0V1674.4H1201.2V1671.6H1192.8V1674.4H1187.2V1677.2H1178.8V1674.4H1176.0V1677.2H1173.2V1680.0H1170.4V1677.2H1162.0V1674.4H1159.2V1677.2H1156.4V1674.4H1153.6V1677.2H1128.4V1674.4H1117.2V1677.2H1111.6V1680.0H1103.2V1677.2H1094.8V1680.0H1089.2V1682.8H1086.4V1680.0H1072.4V1682.8H1069.6V1680.0H1055.6V1682.8H1038.8V1685.6H1033.2V1682.8H1024.8V1685.6H1008.0V1682.8H1002.4V1685.6H996.8V1688.4H991.2V1685.6H982.8V1688.4H974.4V1685.6H963.2V1688.4H952.0V1685.6H943.6V1688.4H926.8V1685.6H921.2V1688.4H915.6V1691.2H910.0V1688.4H907.2V1691.2H896.0V1694.0H887.6V1691.2H873.6V1694.0H870.8V1691.2H854.0V1694.0H851.2V1696.8H845.6V1694.0H837.2V1691.2H826.0V1694.0H800.8V1696.8H798.0V1694.0H792.4V1696.8H786.8V1694.0H770.0V1696.8H767.2V1694.0H761.6V1696.8H753.2V1694.0H750.4V1696.8H747.6V1694.0H736.4V1696.8H730.8V1694.0H719.6V1696.8H711.2V1699.6H702.8V1702.4H700.0V1699.6H691.6V1702.4H646.8V1705.2H644.0V1708.0H641.2V1710.8H635.6V1708.0H621.6V1710.8H604.8V1713.6H596.4V1716.4H582.4V1719.2H576.8V1722.0H560.0V1724.8H548.8V1722.0H523.6V1724.8H520.8V1727.6H515.2V1730.4H512.4V1727.6H506.8V1730.4H495.6V1727.6H490.0V1730.4H464.8V1733.2H453.6V1730.4H450.8V1733.2H439.6V1736.0H428.4V1733.2H422.8V1736.0H420.0V1738.8H417.2V1741.6H408.8V1743.0H400.4V1741.6H383.6V1738.8H378.0V1741.6H372.4V1743.0H366.8V1741.6H344.4V1743.0H336.0V1741.6H330.4V1738.8H327.6V1741.6H305.2V1738.8H303.2Z"/>
</g>
<g id="ticklabels">
<text id="t028" font-size="88" transform="translate(112.89,89.67) scale(1.0193,0.9874)">0.28</text>
<text id="t014" font-size="88" transform="translate(112.87,925.66) scale(1.0248,0.9891)">0.14</text>
<text id="t000" font-size="88" transform="translate(112.66,1764.37) scale(1.0264,0.9808)">0.00</text>
<text id="t300" font-size="88" transform="translate(237.16,1844.84) scale(1.0263,1.0127)">300</text>
<text id="t600" font-size="88" transform="translate(1182.77,1844.55) scale(1.0441,1.0025)">600</text>
<text id="t900" font-size="88" transform="translate(2132.92,1844.55) scale(1.0337,1.0008)">900</text>
</g>
<text id="xlab" font-size="88" transform="translate(939.29,1929.86) scale(0.9669,0.9814)">Wavelength (nm)</text>
<text id="ylab" font-size="88" transform="translate(96.02,1196.54) rotate(-90) scale(0.9918,1.1085)">Absorbance (a.u)</text>
<g id="labels">
<text id="lf" font-size="99" transform="translate(1344.05,983.40) scale(1.2722,1.0093)">f</text>
<text id="le" font-size="99" transform="translate(1347.34,1109.05) scale(1.1026,0.9537)">e</text>
<text id="ld" font-size="99" transform="translate(1360.88,1346.60) scale(1.0800,0.9964)">d</text>
<text id="lc" font-size="99" transform="translate(1890.92,1581.52) scale(1.1368,0.9759)">c</text>
<text id="lb" font-size="99" transform="translate(1153.14,1536.84) scale(1.0111,0.9620)">b</text>
<text id="la" font-size="99" transform="translate(1307.47,1644.12) scale(1.0235,0.9832)">a</text>
</g>
</svg>
</body></html>
